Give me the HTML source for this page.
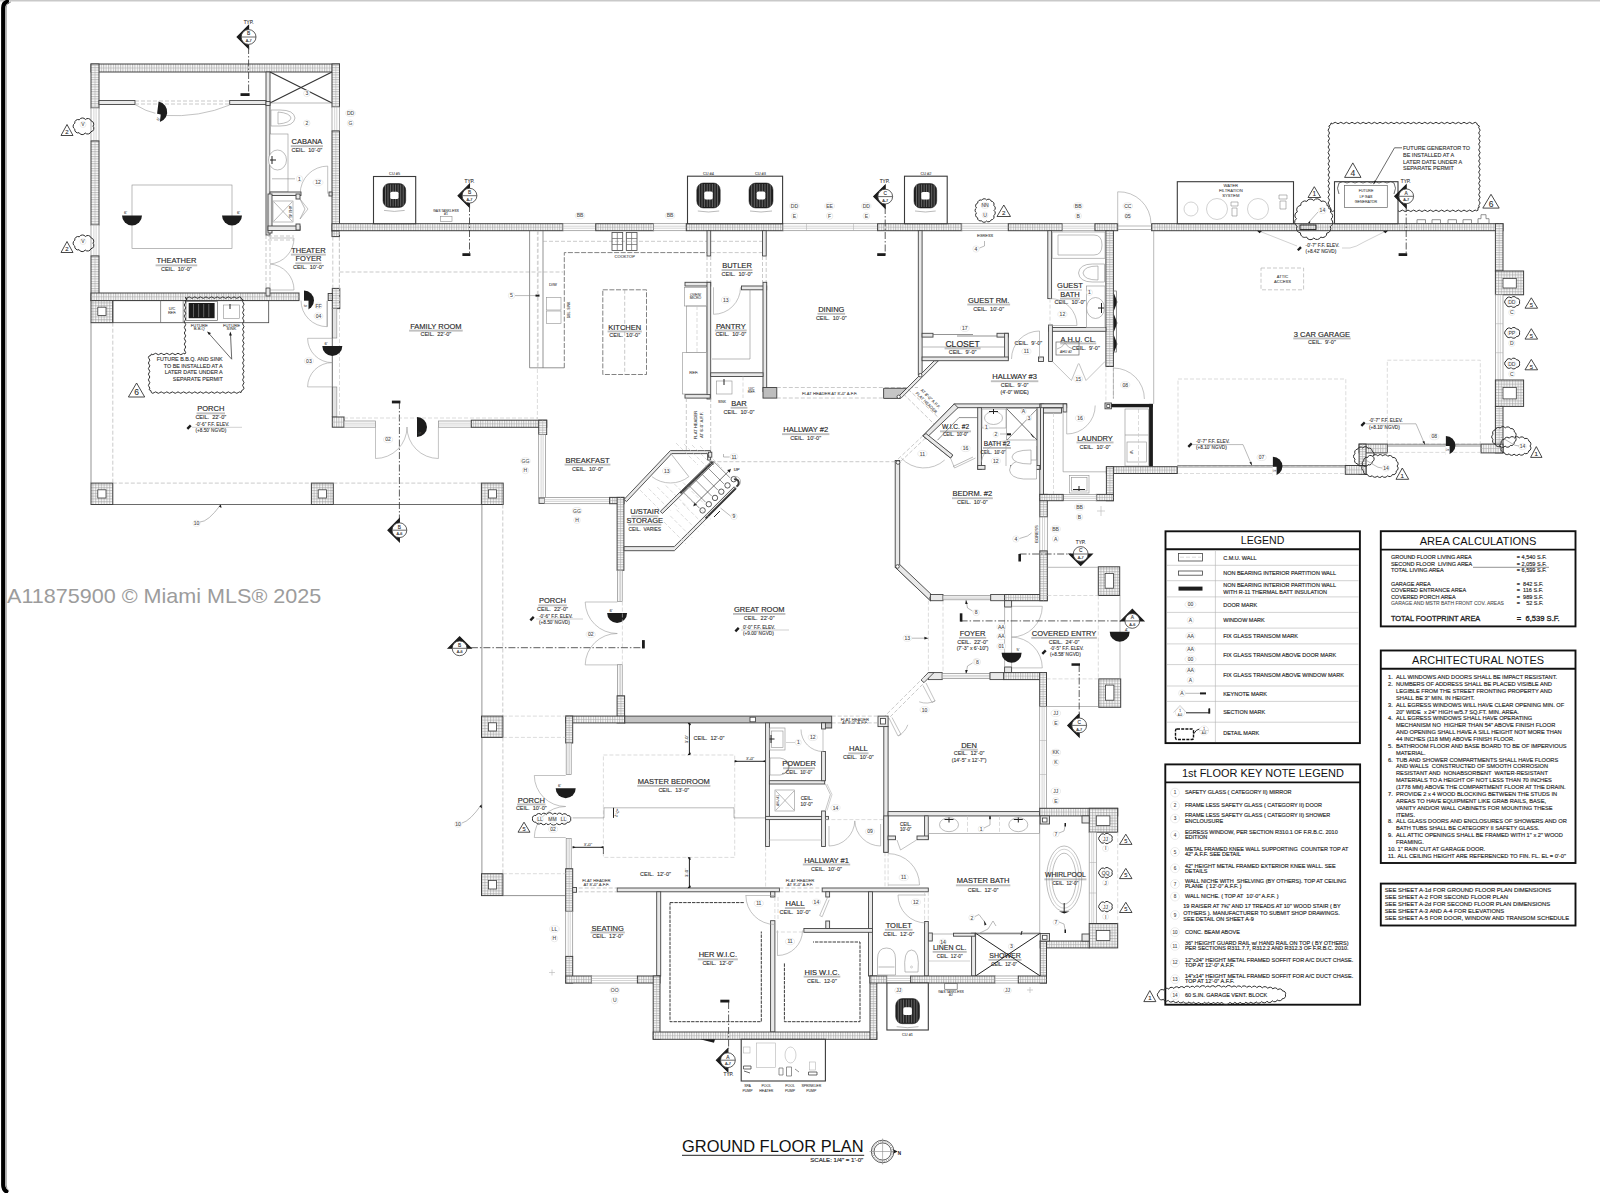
<!DOCTYPE html>
<html lang="en"><head><meta charset="utf-8"><title>Ground Floor Plan</title>
<style>
html,body{margin:0;padding:0;background:#fff}
body{width:1600px;height:1193px;overflow:hidden;position:relative;font-family:"Liberation Sans",sans-serif}
svg{position:absolute;left:0;top:0;display:block}
text{font-family:"Liberation Sans",sans-serif;text-anchor:middle;white-space:pre}
.t{fill:#333;stroke:#333;stroke-width:.12}
.t2{fill:#3a3a3a;stroke:#3a3a3a;stroke-width:.12}
.tt{fill:#484848;stroke:#484848;stroke-width:.08}
.rn{fill:#2a2a2a;stroke:#2a2a2a;stroke-width:.15}
.ul{stroke:#707070;stroke-width:.45;fill:none}
.cm{stroke:#404040;stroke-width:1}
.hc{stroke:#aaa;stroke-width:.5;fill:none}
.gw{stroke:#3c3c3c;stroke-width:.9}
.tw{fill:#e9e9e9;stroke:#444;stroke-width:.9}
.wn{fill:#fff;stroke:#8a8a8a;stroke-width:.7}
.wl{stroke:#aaa;stroke-width:.5;fill:none}
.ci{fill:#fff;stroke:#3c3c3c;stroke-width:.8}
.l0{stroke:#222;stroke-width:1;fill:none}
.l1{stroke:#444;stroke-width:.8;fill:none}
.lx{stroke:#333;stroke-width:1.1;fill:none}
.rl{stroke:#3a3a3a;stroke-width:1.9;fill:none}
.l2{stroke:#666;stroke-width:.7;fill:none}
.l3{stroke:#8c8c8c;stroke-width:.6;fill:none}
.l4{stroke:#b4b4b4;stroke-width:.6;fill:none}
.fx{stroke:#909090;stroke-width:.6;fill:#fff}
.dr{stroke:#9a9a9a;stroke-width:.6;fill:none}
.ds{stroke:#a6a6a6;stroke-width:.6;fill:none;stroke-dasharray:4 2}
.dk{stroke:#4c4c4c;stroke-width:.7;fill:none;stroke-dasharray:5 1.6}
.dk2{stroke:#3a3a3a;stroke-width:1;fill:none;stroke-dasharray:3.4 1}
.ds2{stroke:#c4c4c4;stroke-width:.6;fill:none;stroke-dasharray:4 2}
.dd{stroke:#333;stroke-width:.8;fill:none;stroke-dasharray:7 2 1.5 2}
.bk{fill:#1c1c1c;stroke:none}
.bkp{fill:#1c1c1c;stroke:#1c1c1c;stroke-width:1.1;stroke-linejoin:miter}
.bx{fill:#fff;stroke:#3a3a3a;stroke-width:1.1}
.bb{fill:none;stroke:#111;stroke-width:1.9}
.sc{fill:#fff;stroke:#333;stroke-width:.8}
.tg{fill:#fff;stroke:#d8d8d8;stroke-width:.5}
.trg{fill:#fff;stroke:#333;stroke-width:.9}
.cl{fill:none;stroke:#2c2c2c;stroke-width:1}
.cuo{fill:#222;stroke:#111;stroke-width:.5}
.cus{stroke:#8a8a8a;stroke-width:.65}
.cuc{fill:#fff;stroke:none}
.nt{fill:#2c2c2c;stroke:#2c2c2c;stroke-width:.16}
.hd{fill:#111}
.hdb{fill:#111;font-weight:bold}
.wht{fill:#fff;stroke:none}
.dt{fill:none;stroke:#111;stroke-width:1.4;stroke-dasharray:3 1.2}
.hd2{fill:#222;stroke:#222;stroke-width:.3}
.wm{fill:#9c9c9c;stroke:#fff;stroke-width:.4;paint-order:stroke}
</style></head>
<body>
<svg width="1600" height="1193" viewBox="0 0 1600 1193">
<defs>
<pattern id="hv" width="2.4" height="8" patternUnits="userSpaceOnUse"><rect width="2.4" height="8" fill="#fafafa"/><path d="M.6 0V8" stroke="#8e8e8e" stroke-width=".65"/></pattern>
<pattern id="hh" width="8" height="2.4" patternUnits="userSpaceOnUse"><rect width="8" height="2.4" fill="#fafafa"/><path d="M0 .6H8" stroke="#8e8e8e" stroke-width=".65"/></pattern>
<pattern id="hx" width="2.8" height="2.8" patternUnits="userSpaceOnUse"><rect width="2.8" height="2.8" fill="#fafafa"/><path d="M.6 0V2.8M0 .6H2.8" stroke="#9a9a9a" stroke-width=".6"/></pattern>
</defs>
<rect class="cm" x="91" y="64" width="248.5" height="8" fill="url(#hv)"/>
<path class="hc" d="M91 68H339.5"/>
<rect class="cm" x="91" y="64" width="8" height="44" fill="url(#hh)"/>
<path class="hc" d="M95 64V108"/>
<rect class="wn" x="91" y="108" width="8" height="33"/>
<path class="wl" d="M93.9 108V141"/>
<path class="wl" d="M96.1 108V141"/>
<rect class="cm" x="91" y="141" width="8" height="84" fill="url(#hh)"/>
<path class="hc" d="M95 141V225"/>
<rect class="wn" x="91" y="225" width="8" height="31"/>
<path class="wl" d="M93.9 225V256"/>
<path class="wl" d="M96.1 225V256"/>
<rect class="cm" x="91" y="256" width="8" height="44.6" fill="url(#hh)"/>
<path class="hc" d="M95 256V300.6"/>
<rect class="cm" x="332" y="64" width="7.5" height="43" fill="url(#hh)"/>
<path class="hc" d="M335.8 64V107"/>
<rect class="wn" x="332" y="107" width="7.5" height="24"/>
<path class="wl" d="M334.7 107V131"/>
<path class="wl" d="M336.8 107V131"/>
<rect class="cm" x="332" y="131" width="7.5" height="100" fill="url(#hh)"/>
<path class="hc" d="M335.8 131V231"/>
<rect class="cm" x="91" y="293" width="208" height="7.6" fill="url(#hv)"/>
<path class="hc" d="M91 296.8H299"/>
<rect class="tw" x="266" y="72" width="4" height="163"/>
<rect class="tw" x="99" y="100.5" width="36" height="4"/>
<rect class="tw" x="229.7" y="100.5" width="36.3" height="4"/>
<path class="ds" d="M135 101 L229.7 101"/>
<path class="ds" d="M135 104 L229.7 104"/>
<path class="dr" d="M135 104.5Q146 111.500 156 113.500"/>
<path class="dr" d="M164 115.500Q200 117.500 229.7 105"/>
<path class="bk" d="M157.3 112L158.6 101.5A10.6 10.6 0 0 1 156 122.5Z"/>
<path class="wht" d="M155 113.200L160.700 114.400L159.600 124.500L154 124.500Z"/>
<text class="tt" x="158.2" y="120.4" font-size="3.9" transform="rotate(-80 158.2 119)">6'</text>
<path class="lx" d="M270 72 L332 103"/>
<path class="lx" d="M270 103 L332 72"/>
<path class="l3" d="M270 103 L332 103"/>
<rect class="tw" x="266" y="101.5" width="4" height="4"/>
<path class="fx" d="M271 110h9q14 0 15 8q-1 8 -15 8h-9z"/>
<path class="fx" d="M278 112q12 1 13 6q-1 5 -13 6z"/>
<rect class="fx" x="270" y="134" width="18" height="58"/>
<ellipse class="fx" cx="277.5" cy="160" rx="9" ry="10"/>
<path class="l0" d="M272 156v8M270 160h6"/>
<ellipse class="tg" cx="299.5" cy="178.8" rx="3.2" ry="3.2"/>
<text class="tt" x="299.5" y="180.6" font-size="5">1</text>
<path class="l3" d="M272 178.8 L295 178.8"/>
<ellipse class="tg" cx="318" cy="182.5" rx="5" ry="3.4"/>
<text class="tt" x="318" y="184.3" font-size="5">12</text>
<ellipse class="tg" cx="306.8" cy="123.2" rx="3.2" ry="3.2"/>
<text class="tt" x="306.8" y="125" font-size="5">2</text>
<ellipse class="tg" cx="306.8" cy="93.5" rx="3.2" ry="3.2"/>
<text class="tt" x="306.8" y="95.3" font-size="5">3</text>
<path class="dr" d="M327.7 193.6L327.7 166.1"/>
<path class="dr" d="M327.7 166.1A27.5 27.5 0 0 0 300.2 193.6"/>
<rect class="tw" x="270" y="192" width="31" height="3.5"/>
<rect class="tw" x="329" y="192" width="3" height="4"/>
<rect class="tw" x="268" y="194" width="4" height="39"/>
<rect class="tw" x="268" y="226" width="32" height="4.5"/>
<rect class="tw" x="296" y="194" width="4" height="5"/>
<rect class="tw" x="296" y="224" width="4" height="6"/>
<rect class="fx" x="273" y="201" width="20" height="21"/>
<path class="l3" d="M274 202 L292 221"/>
<path class="l3" d="M274 221 L292 202"/>
<text class="tt" x="290.5" y="213.2" font-size="3.4" transform="rotate(90 290.5 212)">AHU #5</text>
<path class="dr" d="M300 199l8 10l-8 10"/>
<path class="l3" d="M300 199l5 10l-5 10"/>
<path class="ds" d="M268 236h26M268 240h26"/>
<path class="dr" d="M270 238h24A26 26 0 0 1 270 264"/>
<path class="dr" d="M270 290h24A26 26 0 0 0 270 264"/>
<rect class="tw" x="266" y="288" width="4" height="8"/>
<path class="ds" d="M266 235 L266 293"/>
<path class="ds" d="M270 235 L270 293"/>
<rect class="l3" x="132" y="185" width="100" height="63.4"/>
<path class="bk" d="M132 215.5L142 215.5A10 10 0 0 1 122 215.5Z"/>
<path class="bk" d="M232 215.5L242 215.5A10 10 0 0 1 222 215.5Z"/>
<text class="tt" x="125.5" y="214" font-size="4.2">6'</text>
<text class="tt" x="238.5" y="214" font-size="4.2">6'</text>
<text class="rn" x="176.4" y="263.4" font-size="7.5">THEATHER</text>
<path class="ul" d="M155.6 264.9H197.2M155.6 265.8H197.2"/>
<text class="t" x="176.4" y="271.3" font-size="5.5">CEIL.  10'-0"</text>
<text class="rn" x="306.9" y="144.2" font-size="7.5">CABANA</text>
<path class="ul" d="M290.8 145.7H323M290.8 146.6H323"/>
<text class="t" x="306.9" y="152.1" font-size="5.5">CEIL.  10'-0"</text>
<text class="rn" x="308.4" y="252.7" font-size="7.5">THEATER</text>
<path class="ul" d="M290.9 254.2H325.9M290.9 255.1H325.9"/>
<text class="rn" x="308.4" y="261.3" font-size="7.5">FOYER</text>
<path class="ul" d="M295.4 262.8H321.4M295.4 263.7H321.4"/>
<text class="t" x="308.4" y="269" font-size="5.5">CEIL.  10'-0"</text>
<text class="t" x="248.6" y="23.7" font-size="4.7">TYP.</text>
<path class="bkp" d="M248.6 25.5 L237.1 37 L248.6 48.5Z"/>
<circle class="sc" cx="248.6" cy="37" r="7.4"/>
<path class="l1" d="M241.2 37H256"/>
<text class="t" x="248.6" y="35.4" font-size="4.8">B</text>
<text class="t" x="248.6" y="42.1" font-size="3.8">A-7</text>
<path class="dd" d="M248.6 47 L248.6 94"/>
<rect class="bk" x="240.5" y="93.2" width="9.1" height="2.8"/>
<path class="trg" d="M61 135.5 L67 124.5 L73 135.5Z"/>
<text class="t" x="67" y="134" font-size="6">2</text>
<path class="cl" d="M93 126.2A3.3 3.3 0 0 1 91 131.7A3.5 3.5 0 0 1 85.2 133A3.5 3.5 0 0 1 79.1 132.7A3.2 3.2 0 0 1 74.8 129.2A3.5 3.5 0 0 1 74.8 123.2A3.2 3.2 0 0 1 79.3 119.8A3.6 3.6 0 0 1 85.4 119.5A3.4 3.4 0 0 1 91.1 120.9A3.3 3.3 0 0 1 93 126.2Z"/>
<ellipse class="tg" cx="83" cy="124.5" rx="3" ry="3"/>
<text class="tt" x="83" y="126.3" font-size="5">V</text>
<path class="trg" d="M61 252.5 L67 241.5 L73 252.5Z"/>
<text class="t" x="67" y="251" font-size="6">2</text>
<path class="cl" d="M93 243.2A3.3 3.3 0 0 1 91 248.7A3.5 3.5 0 0 1 85.2 250A3.5 3.5 0 0 1 79.1 249.7A3.2 3.2 0 0 1 74.8 246.2A3.5 3.5 0 0 1 74.8 240.2A3.2 3.2 0 0 1 79.3 236.8A3.6 3.6 0 0 1 85.4 236.5A3.4 3.4 0 0 1 91.1 237.9A3.3 3.3 0 0 1 93 243.2Z"/>
<ellipse class="tg" cx="83" cy="241.5" rx="3" ry="3"/>
<text class="tt" x="83" y="243.3" font-size="5">V</text>
<ellipse class="tg" cx="350.5" cy="113.2" rx="4.8" ry="3.3"/>
<text class="tt" x="350.5" y="115" font-size="5">DD</text>
<ellipse class="tg" cx="350.5" cy="123.2" rx="3.3" ry="3.3"/>
<text class="tt" x="350.5" y="125" font-size="5">G</text>
<rect class="cm" x="332" y="223.7" width="231" height="7" fill="url(#hv)"/>
<path class="hc" d="M332 227.2H563"/>
<rect class="wn" x="563" y="223.7" width="32.8" height="7"/>
<path class="wl" d="M563 226.2H595.8"/>
<path class="wl" d="M563 228.2H595.8"/>
<rect class="cm" x="595.8" y="223.7" width="57.8" height="7" fill="url(#hv)"/>
<path class="hc" d="M595.8 227.2H653.6"/>
<rect class="wn" x="653.6" y="223.7" width="32.7" height="7"/>
<path class="wl" d="M653.6 226.2H686.3"/>
<path class="wl" d="M653.6 228.2H686.3"/>
<rect class="cm" x="686.3" y="223.7" width="96.7" height="7" fill="url(#hv)"/>
<path class="hc" d="M686.3 227.2H783"/>
<rect class="wn" x="783" y="223.7" width="94.6" height="7"/>
<path class="wl" d="M783 226.2H877.6"/>
<path class="wl" d="M783 228.2H877.6"/>
<path class="wl" d="M806.5 223.7V230.7"/>
<path class="wl" d="M853.5 223.7V230.7"/>
<rect class="cm" x="877.6" y="223.7" width="84.2" height="7" fill="url(#hv)"/>
<path class="hc" d="M877.6 227.2H961.8"/>
<rect class="wn" x="961.8" y="223.7" width="46.5" height="7"/>
<path class="wl" d="M961.8 226.2H1008.3"/>
<path class="wl" d="M961.8 228.2H1008.3"/>
<rect class="cm" x="1008.3" y="223.7" width="54.1" height="7" fill="url(#hv)"/>
<path class="hc" d="M1008.3 227.2H1062.4"/>
<rect class="wn" x="1062.4" y="223.7" width="32.6" height="7"/>
<path class="wl" d="M1062.4 226.2H1095"/>
<path class="wl" d="M1062.4 228.2H1095"/>
<rect class="cm" x="1095" y="223.7" width="22.7" height="7" fill="url(#hv)"/>
<path class="hc" d="M1095 227.2H1117.7"/>
<rect class="cm" x="1151.6" y="223.7" width="351.4" height="7" fill="url(#hv)"/>
<path class="hc" d="M1151.6 227.2H1503"/>
<rect class="bx" x="373.5" y="176.5" width="42.2" height="47.2"/>
<rect class="cuo" x="383" y="183.5" width="22.7" height="23.9" rx="6.4" ry="6.7"/>
<path class="cus" d="M385.5 184.5V206.4"/>
<path class="cus" d="M388 184.5V206.4"/>
<path class="cus" d="M390.6 184.5V206.4"/>
<path class="cus" d="M393.1 184.5V206.4"/>
<path class="cus" d="M395.6 184.5V206.4"/>
<path class="cus" d="M398.1 184.5V206.4"/>
<path class="cus" d="M400.7 184.5V206.4"/>
<path class="cus" d="M403.2 184.5V206.4"/>
<rect class="cuc" x="390.3" y="191.7" width="8.2" height="7.4" rx="1.6"/>
<path class="l3" d="M384 210.4Q394.4 212.4 404.7 210.4"/>
<text class="tt" x="394.6" y="174.8" font-size="3.9">CU #5</text>
<rect class="bx" x="687.5" y="176.2" width="95.1" height="47.5"/>
<rect class="cuo" x="696.8" y="183" width="23.4" height="25" rx="6.6" ry="7"/>
<path class="cus" d="M699.4 184V207"/>
<path class="cus" d="M702 184V207"/>
<path class="cus" d="M704.6 184V207"/>
<path class="cus" d="M707.2 184V207"/>
<path class="cus" d="M709.8 184V207"/>
<path class="cus" d="M712.4 184V207"/>
<path class="cus" d="M715 184V207"/>
<path class="cus" d="M717.6 184V207"/>
<rect class="cuc" x="704.3" y="191.6" width="8.4" height="7.8" rx="1.6"/>
<path class="l3" d="M697.8 211Q708.5 213 719.2 211"/>
<text class="tt" x="708.4" y="174.8" font-size="3.9">CU #4</text>
<rect class="cuo" x="749" y="183" width="24" height="25" rx="6.7" ry="7"/>
<path class="cus" d="M751.7 184V207"/>
<path class="cus" d="M754.3 184V207"/>
<path class="cus" d="M757 184V207"/>
<path class="cus" d="M759.7 184V207"/>
<path class="cus" d="M762.3 184V207"/>
<path class="cus" d="M765 184V207"/>
<path class="cus" d="M767.7 184V207"/>
<path class="cus" d="M770.3 184V207"/>
<rect class="cuc" x="756.7" y="191.6" width="8.6" height="7.8" rx="1.6"/>
<path class="l3" d="M750 211Q761 213 772 211"/>
<text class="tt" x="760.4" y="174.8" font-size="3.9">CU #3</text>
<rect class="bx" x="904.5" y="176.2" width="42.7" height="47.5"/>
<rect class="cuo" x="914" y="183.5" width="22.7" height="24.5" rx="6.4" ry="6.9"/>
<path class="cus" d="M916.5 184.5V207"/>
<path class="cus" d="M919 184.5V207"/>
<path class="cus" d="M921.6 184.5V207"/>
<path class="cus" d="M924.1 184.5V207"/>
<path class="cus" d="M926.6 184.5V207"/>
<path class="cus" d="M929.1 184.5V207"/>
<path class="cus" d="M931.7 184.5V207"/>
<path class="cus" d="M934.2 184.5V207"/>
<rect class="cuc" x="921.3" y="192" width="8.2" height="7.6" rx="1.6"/>
<path class="l3" d="M915 211Q925.4 213 935.7 211"/>
<text class="tt" x="925.9" y="174.8" font-size="3.9">CU #2</text>
<text class="t" x="469.5" y="182.7" font-size="4.7">TYP.</text>
<path class="bkp" d="M469.5 184.2 L458 195.7 L469.5 207.2Z"/>
<circle class="sc" cx="469.5" cy="195.7" r="7.4"/>
<path class="l1" d="M462.1 195.7H476.9"/>
<text class="t" x="469.5" y="194.1" font-size="4.8">B</text>
<text class="t" x="469.5" y="200.8" font-size="3.8">A-7</text>
<path class="dd" d="M469.5 205 L469.5 254.6"/>
<rect class="bk" x="462.4" y="253.2" width="8" height="2.8"/>
<text class="t" x="884.6" y="182.7" font-size="4.7">TYP.</text>
<path class="bkp" d="M885.2 185.1 L873.7 196.6 L885.2 208.1Z"/>
<circle class="sc" cx="885.2" cy="196.6" r="7.4"/>
<path class="l1" d="M877.8 196.6H892.6"/>
<text class="t" x="885.2" y="195" font-size="4.8">C</text>
<text class="t" x="885.2" y="201.7" font-size="3.8">A-7</text>
<path class="dd" d="M885.2 207 L885.2 254.6"/>
<rect class="bk" x="877.2" y="253.2" width="8.3" height="2.8"/>
<text class="tt" x="446" y="211.7" font-size="3.4">GAS TANKLESS</text>
<text class="tt" x="446" y="214.8" font-size="3.4">#1</text>
<rect class="l3" x="440.5" y="216.5" width="11.5" height="5"/>
<ellipse class="tg" cx="580" cy="215.6" rx="4.8" ry="3.2"/>
<text class="tt" x="580" y="217.4" font-size="5">BB</text>
<ellipse class="tg" cx="670" cy="215.6" rx="4.8" ry="3.2"/>
<text class="tt" x="670" y="217.4" font-size="5">BB</text>
<ellipse class="tg" cx="794.4" cy="206" rx="4.8" ry="3.3"/>
<text class="tt" x="794.4" y="207.8" font-size="5">DD</text>
<ellipse class="tg" cx="794.4" cy="216" rx="3.3" ry="3.3"/>
<text class="tt" x="794.4" y="217.8" font-size="5">E</text>
<ellipse class="tg" cx="829.6" cy="206" rx="4.8" ry="3.3"/>
<text class="tt" x="829.6" y="207.8" font-size="5">EE</text>
<ellipse class="tg" cx="829.6" cy="216" rx="3.3" ry="3.3"/>
<text class="tt" x="829.6" y="217.8" font-size="5">F</text>
<ellipse class="tg" cx="866.3" cy="206" rx="4.8" ry="3.3"/>
<text class="tt" x="866.3" y="207.8" font-size="5">DD</text>
<ellipse class="tg" cx="866.3" cy="216" rx="3.3" ry="3.3"/>
<text class="tt" x="866.3" y="217.8" font-size="5">E</text>
<ellipse class="tg" cx="1078.2" cy="206" rx="4.8" ry="3.3"/>
<text class="tt" x="1078.2" y="207.8" font-size="5">BB</text>
<ellipse class="tg" cx="1078.2" cy="216" rx="3.3" ry="3.3"/>
<text class="tt" x="1078.2" y="217.8" font-size="5">B</text>
<ellipse class="tg" cx="1127.8" cy="206" rx="4.8" ry="3.3"/>
<text class="tt" x="1127.8" y="207.8" font-size="5">CC</text>
<ellipse class="tg" cx="1127.8" cy="216" rx="3.3" ry="3.3"/>
<text class="tt" x="1127.8" y="217.8" font-size="5">05</text>
<path class="cl" d="M994 210.5A3 3 0 0 1 993.7 215.6A2.8 2.8 0 0 1 991.2 219.8A2.9 2.9 0 0 1 986.4 221A2.8 2.8 0 0 1 981.5 220.7A2.8 2.8 0 0 1 977.6 217.8A2.9 2.9 0 0 1 976.5 212.9A2.9 2.9 0 0 1 976.5 207.9A2.8 2.8 0 0 1 977.7 203.1A2.9 2.9 0 0 1 981.7 200.2A2.9 2.9 0 0 1 986.6 200A2.8 2.8 0 0 1 991.3 201.3A2.8 2.8 0 0 1 993.7 205.5A2.9 2.9 0 0 1 994 210.5Z"/>
<ellipse class="tg" cx="985" cy="205.5" rx="4" ry="3"/>
<text class="tt" x="985" y="207.3" font-size="5">NN</text>
<ellipse class="tg" cx="985" cy="215" rx="3" ry="3"/>
<text class="tt" x="985" y="216.8" font-size="5">U</text>
<path class="trg" d="M997 216.5 L1003.8 205 L1010.5 216.5Z"/>
<text class="t" x="1003.8" y="214.9" font-size="6.2">2</text>
<text class="tt" x="985" y="236.7" font-size="3.9">EGRESS</text>
<ellipse class="tg" cx="976" cy="249" rx="3.2" ry="3.2"/>
<text class="tt" x="976" y="250.8" font-size="5">4</text>
<path class="l3" d="M979.5 248l5-2v-5"/>
<path class="dr" d="M1117.7 223.7V191.8A32 32 0 0 1 1151 223.7"/>
<path class="l3" d="M1117.7 226h34M1117.7 229.5h34"/>
<rect class="bx" x="1177.3" y="181.7" width="116.2" height="42"/>
<text class="tt" x="1230.8" y="187" font-size="4.2">WATER</text>
<text class="tt" x="1230.8" y="192.1" font-size="4.2">FILTRATION</text>
<text class="tt" x="1230.8" y="197.2" font-size="4.2">SYSTEM</text>
<circle class="l4" cx="1217" cy="209" r="10.5"/>
<circle class="l4" cx="1258" cy="209" r="10.5"/>
<circle class="l4" cx="1191" cy="209" r="7"/>
<path class="l3" d="M1231 202h7v4h-7zM1232 208h5v8h-5z"/>
<path class="l3" d="M1279 195h8v4h-8zM1280 201h6v8h-6z"/>
<path class="cl" d="M1331 123q1.4 1.4 2.8 0q1.4 -1.4 2.8 0q1.4 1.4 2.8 0q1.4 -1.4 2.8 0q1.4 1.4 2.8 0q1.4 -1.4 2.8 0q1.4 1.4 2.8 0q1.4 -1.4 2.8 0q1.4 1.4 2.8 0q1.4 -1.4 2.8 0q1.4 1.4 2.8 0q1.4 -1.4 2.8 0q1.4 1.4 2.8 0q1.4 -1.4 2.8 0q1.4 1.4 2.8 0q1.4 -1.4 2.8 0q1.4 1.4 2.8 0q1.4 -1.4 2.8 0q1.4 1.4 2.8 0q1.4 -1.4 2.8 0q1.4 1.4 2.8 0q1.4 -1.4 2.8 0q1.4 1.4 2.8 0q1.4 -1.4 2.8 0q1.4 1.4 2.8 0q1.4 -1.4 2.8 0q1.4 1.4 2.8 0q1.4 -1.4 2.8 0q1.4 1.4 2.8 0q1.4 -1.4 2.8 0q1.4 1.4 2.8 0q1.4 -1.4 2.8 0q1.4 1.4 2.8 0q1.4 -1.4 2.8 0q1.4 1.4 2.8 0q1.4 -1.4 2.8 0q1.4 1.4 2.8 0q1.4 -1.4 2.8 0q1.4 1.4 2.8 0q1.4 -1.4 2.8 0q1.4 1.4 2.8 0q1.4 -1.4 2.8 0q1.4 1.4 2.8 0q1.4 -1.4 2.8 0q1.4 1.4 2.8 0q1.4 -1.4 2.8 0q1.4 1.4 2.8 0q1.4 -1.4 2.8 0q1.4 1.4 2.8 0q1.4 -1.4 2.8 0q1.4 1.4 2.8 0q1.4 -1.4 2.8 0q0.4 2.5 2.8 3q-1.4 1.4 0 2.8q1.4 1.4 0 2.8q-1.4 1.4 0 2.8q1.4 1.4 0 2.8q-1.4 1.4 0 2.8q1.4 1.4 0 2.8q-1.4 1.4 0 2.8q1.4 1.4 0 2.8q-1.4 1.4 0 2.8q1.4 1.4 0 2.8q-1.4 1.4 0 2.8q1.4 1.4 0 2.8q-1.4 1.4 0 2.8q1.4 1.4 0 2.8q-1.4 1.4 0 2.8q1.4 1.4 0 2.8q-1.4 1.4 0 2.8q1.4 1.4 0 2.8q-1.4 1.4 0 2.8q1.4 1.4 0 2.8q-1.4 1.4 0 2.8q1.4 1.4 0 2.8q-1.4 1.4 0 2.8q1.4 1.4 0 2.8q-1.4 1.4 0 2.8q1.4 1.4 0 2.8q-1.4 1.4 0 2.8q1.4 1.4 0 2.8q-1.4 1.4 0 2.8q-1.8 0 -1.4 1.8q0.4 1.8 -1.4 1.8q-1.4 -1.4 -2.8 0q-1.4 1.4 -2.8 0q-1.4 -1.4 -2.8 0q-1.4 1.4 -2.8 0q-1.4 -1.4 -2.8 0q-1.4 1.4 -2.8 0q-1.4 -1.4 -2.8 0q-1.4 1.4 -2.8 0q-1.4 -1.4 -2.8 0q-1.4 1.4 -2.8 0q-1.4 -1.4 -2.8 0q-1.4 1.4 -2.8 0q-1.4 -1.4 -2.8 0q-1.4 1.4 -2.8 0q-1.4 -1.4 -2.8 0q-1.4 1.4 -2.8 0q-1.4 -1.4 -2.8 0q-1.4 1.4 -2.8 0q-1.4 -1.4 -2.8 0q-1.4 1.4 -2.8 0q-1.4 -1.4 -2.8 0q-1.4 1.4 -2.8 0q-1.4 -1.4 -2.8 0q-1.4 1.4 -2.8 0q-1.4 -1.4 -2.8 0q-1.4 1.4 -2.8 0q-1.4 -1.4 -2.8 0q-1.4 1.4 -2.8 0q-1.4 -1.4 -2.8 0q-1.4 1.4 -2.8 0q-1.4 -1.4 -2.8 0q-1.4 1.4 -2.8 0q-1.4 -1.4 -2.8 0q-1.4 1.4 -2.8 0q-1.4 -1.4 -2.8 0q-1.4 1.4 -2.8 0q-1.4 -1.4 -2.8 0q-1.4 1.4 -2.8 0q-1.4 -1.4 -2.8 0q-1.4 1.4 -2.8 0q-1.4 -1.4 -2.8 0q-1.4 1.4 -2.8 0q-1.4 -1.4 -2.8 0q-1.4 1.4 -2.8 0q-1.4 -1.4 -2.8 0q-1.4 1.4 -2.8 0q-1.4 -1.4 -2.8 0q-1.4 1.4 -2.8 0q-1.4 -1.4 -2.8 0q-1.4 1.4 -2.8 0q-1.4 -1.4 -2.8 0q-1.4 1.4 -2.8 0q0.6 -1.7 -1.1 -1.8q-1.8 -0.1 -1.1 -1.8q1.4 -1.4 0 -2.8q-1.4 -1.4 0 -2.8q1.4 -1.4 0 -2.8q-1.4 -1.4 0 -2.8q1.4 -1.4 0 -2.8q-1.4 -1.4 0 -2.8q1.4 -1.4 0 -2.8q-1.4 -1.4 0 -2.8q1.4 -1.4 0 -2.8q-1.4 -1.4 0 -2.8q1.4 -1.4 0 -2.8q-1.4 -1.4 0 -2.8q1.4 -1.4 0 -2.8q-1.4 -1.4 0 -2.8q1.4 -1.4 0 -2.8q-1.4 -1.4 0 -2.8q1.4 -1.4 0 -2.8q-1.4 -1.4 0 -2.8q1.4 -1.4 0 -2.8q-1.4 -1.4 0 -2.8q1.4 -1.4 0 -2.8q-1.4 -1.4 0 -2.8q1.4 -1.4 0 -2.8q-1.4 -1.4 0 -2.8q1.4 -1.4 0 -2.8q-1.4 -1.4 0 -2.8q1.4 -1.4 0 -2.8q-1.4 -1.4 0 -2.8q1.4 -1.4 0 -2.8q2.3 -0.6 2.3 -3Z"/>
<rect class="bx" x="1334.5" y="181.7" width="63.5" height="42"/>
<rect class="l2" x="1344.6" y="185.5" width="42.7" height="22.1"/>
<text class="tt" x="1366" y="192.1" font-size="3.6">FUTURE</text>
<text class="tt" x="1366" y="197.5" font-size="3.6">LP GAS</text>
<text class="tt" x="1366" y="202.8" font-size="3.6">GENERATOR</text>
<path class="l1" d="M1339 183q-3 5 0 11M1394 183q3 5 0 11"/>
<path class="l1" d="M1339 183q4 -3 8 0q4 -3 8 0q4 -3 8 0q4 -3 8 0q4 -3 8 0q4 -3 8 0q4 -3 7 0"/>
<text class="t" x="1403" y="150.3" font-size="5.5" style="text-anchor:start">FUTURE GENERATOR TO</text>
<text class="t" x="1403" y="156.9" font-size="5.5" style="text-anchor:start">BE INSTALLED AT A</text>
<text class="t" x="1403" y="163.5" font-size="5.5" style="text-anchor:start">LATER DATE UNDER A</text>
<text class="t" x="1403" y="170.1" font-size="5.5" style="text-anchor:start">SEPARATE PERMIT</text>
<path class="l1" d="M1402 147.8h-7.5l-21 36.4"/>
<path class="bk" d="M1373.5 184.2l1-3.6l1.8 1z"/>
<text class="t" x="1405.7" y="183.4" font-size="4.7">TYP.</text>
<path class="bkp" d="M1406.2 184.8 L1394.7 196.3 L1406.2 207.8Z"/>
<circle class="sc" cx="1406.2" cy="196.3" r="7.4"/>
<path class="l1" d="M1398.8 196.3H1413.6"/>
<text class="t" x="1406.2" y="194.7" font-size="4.8">A</text>
<text class="t" x="1406.2" y="201.4" font-size="3.8">A-7</text>
<path class="dd" d="M1406.2 205 L1406.2 254.6"/>
<rect class="bk" x="1398.6" y="253.2" width="8.6" height="2.8"/>
<path class="trg" d="M1344.6 177.4 L1352.8 162.9 L1361 177.4Z"/>
<text class="t" x="1352.8" y="175.7" font-size="8.5">4</text>
<path class="trg" d="M1308 197.5 L1314.3 186.7 L1320.7 197.5Z"/>
<text class="t" x="1314.3" y="196.3" font-size="6.5">1</text>
<path class="trg" d="M1482.8 208.1 L1491 194.3 L1499.2 208.1Z"/>
<text class="t" x="1491" y="206.6" font-size="8.5">6</text>
<path class="cl" d="M1331 219.2A4.3 4.3 0 0 1 1330.2 226.6A4.3 4.3 0 0 1 1326.8 233.1A4.2 4.2 0 0 1 1320.7 237.1A4.1 4.1 0 0 1 1313.8 238A4.2 4.2 0 0 1 1306.5 237A4.2 4.2 0 0 1 1300.5 232.9A4.3 4.3 0 0 1 1297.2 226.3A4.4 4.4 0 0 1 1296.5 218.7A3.9 3.9 0 0 1 1297.3 211.9A4.3 4.3 0 0 1 1300.7 205.4A4.2 4.2 0 0 1 1306.8 201.4A4.1 4.1 0 0 1 1313.7 200.5A4.2 4.2 0 0 1 1321 201.5A4.2 4.2 0 0 1 1327 205.6A4.3 4.3 0 0 1 1330.3 212.2A4.1 4.1 0 0 1 1331 219.2Z"/>
<ellipse class="tg" cx="1322.4" cy="210.6" rx="3.8" ry="3.2"/>
<text class="tt" x="1322.4" y="212.4" font-size="5">14</text>
<path class="l3" d="M1318 212l-9 10"/>
<rect class="l0" x="1300" y="225" width="16" height="4.4"/>
<path class="bk" d="M1308 222.6l2.4-1.6l-.6 2.6z"/>
<text class="t2" x="1305.6" y="247" font-size="4.7" style="text-anchor:start">-0'-7" F.F. ELEV.</text>
<text class="t2" x="1305.6" y="253.1" font-size="4.7" style="text-anchor:start">(+8.42' NGVD)</text>
<path class="bk" d="M1297 249.500l3.2-3.2l1.6 1.6l-3.2 3.2z"/>
<path class="l4" d="M1259 231l38 15M1342 248h8q6 -1 14 -6l22 -11"/>
<path class="bk" d="M1257 230.7l5 .4l-2.4 2.2zM1388 230.7l-5 .4l2.4 2.2z"/>
<rect class="ds" x="1261" y="268" width="42.6" height="21.8"/>
<text class="tt" x="1282.5" y="277.5" font-size="4.1">ATTIC</text>
<text class="tt" x="1282.5" y="283" font-size="4.1">ACCESS</text>
<text class="rn" x="1322" y="336.5" font-size="7.5">3 CAR GARAGE</text>
<path class="ul" d="M1293.3 338H1350.7M1293.3 338.9H1350.7"/>
<text class="t" x="1322" y="344.2" font-size="5.5">CEIL.  9'-0"</text>
<path class="l2" d="M1417 223.7v-4h8.500v4"/>
<path class="l2" d="M1432 223.7v-4h8.500v4"/>
<path class="l2" d="M1448 223.7v-4h8.500v4"/>
<path class="l2" d="M1463 223.7v-4h8.500v4"/>
<path class="l2" d="M1478 223.700v-5h3v-4h5v4h3v5"/>
<rect class="cm" x="1495.4" y="223.7" width="7.6" height="47.3" fill="url(#hh)"/>
<path class="hc" d="M1499.2 223.7V271"/>
<rect class="cm" x="1495.4" y="271" width="28.2" height="23.8" fill="url(#hx)"/>
<rect class="ci" x="1503" y="278.5" width="13.3" height="9.5"/>
<rect class="wn" x="1495.4" y="294.8" width="7.6" height="86.8"/>
<path class="wl" d="M1498.1 294.8V381.6"/>
<path class="wl" d="M1500.3 294.8V381.6"/>
<path class="wl" d="M1495.4 323.7H1503"/>
<path class="wl" d="M1495.4 352.7H1503"/>
<rect class="cm" x="1495.4" y="380" width="28.2" height="26.4" fill="url(#hx)"/>
<rect class="ci" x="1503" y="387.5" width="13.3" height="11.4"/>
<rect class="cm" x="1495.4" y="406.4" width="7.6" height="46.5" fill="url(#hh)"/>
<path class="hc" d="M1499.2 406.4V452.9"/>
<rect class="cm" x="1481" y="444.1" width="22" height="8.8" fill="url(#hv)"/>
<path class="hc" d="M1481 448.5H1503"/>
<path class="cl" d="M1519.5 301.9A2.8 2.8 0 0 1 1516.5 305.6A3.1 3.1 0 0 1 1511.1 305.9A3 3 0 0 1 1506.1 304.4A2.9 2.9 0 0 1 1506.2 299.3A3 3 0 0 1 1511.2 297.9A3.1 3.1 0 0 1 1516.5 298.2A2.8 2.8 0 0 1 1519.5 301.9Z"/>
<ellipse class="tg" cx="1511.8" cy="302.4" rx="4.4" ry="3.2"/>
<text class="tt" x="1511.8" y="304.2" font-size="5">DD</text>
<ellipse class="tg" cx="1511.8" cy="312.4" rx="3.2" ry="3.2"/>
<text class="tt" x="1511.8" y="314.2" font-size="5">C</text>
<path class="trg" d="M1525 308.2 L1531.3 297.8 L1537.6 308.2Z"/>
<text class="t" x="1531.3" y="306.9" font-size="5.8">5</text>
<path class="cl" d="M1519.5 332.8A2.8 2.8 0 0 1 1516.5 336.5A3.1 3.1 0 0 1 1511.1 336.8A3 3 0 0 1 1506.1 335.3A2.9 2.9 0 0 1 1506.2 330.2A3 3 0 0 1 1511.2 328.8A3.1 3.1 0 0 1 1516.5 329.1A2.8 2.8 0 0 1 1519.5 332.8Z"/>
<ellipse class="tg" cx="1511.8" cy="333.3" rx="4.4" ry="3.2"/>
<text class="tt" x="1511.8" y="335.1" font-size="5">PP</text>
<ellipse class="tg" cx="1511.8" cy="343.3" rx="3.2" ry="3.2"/>
<text class="tt" x="1511.8" y="345.1" font-size="5">D</text>
<path class="trg" d="M1525 339.1 L1531.3 328.7 L1537.6 339.1Z"/>
<text class="t" x="1531.3" y="337.8" font-size="5.8">5</text>
<path class="cl" d="M1519.5 363.5A2.8 2.8 0 0 1 1516.5 367.2A3.1 3.1 0 0 1 1511.1 367.5A3 3 0 0 1 1506.1 366A2.9 2.9 0 0 1 1506.2 360.9A3 3 0 0 1 1511.2 359.5A3.1 3.1 0 0 1 1516.5 359.8A2.8 2.8 0 0 1 1519.5 363.5Z"/>
<ellipse class="tg" cx="1511.8" cy="364" rx="4.4" ry="3.2"/>
<text class="tt" x="1511.8" y="365.8" font-size="5">DD</text>
<ellipse class="tg" cx="1511.8" cy="374" rx="3.2" ry="3.2"/>
<text class="tt" x="1511.8" y="375.8" font-size="5">C</text>
<path class="trg" d="M1525 369.8 L1531.3 359.4 L1537.6 369.8Z"/>
<text class="t" x="1531.3" y="368.5" font-size="5.8">5</text>
<rect class="ds2" x="1387.3" y="360.2" width="93" height="83.8"/>
<rect class="ds2" x="1178" y="379" width="167.8" height="87"/>
<rect class="cm" x="91" y="300.6" width="21.8" height="22.1" fill="url(#hx)"/>
<rect class="ci" x="97.8" y="307.2" width="8.2" height="8.3"/>
<rect class="l1" x="112.8" y="300.6" width="155.9" height="22.1"/>
<path class="l2" d="M160.6 300.6 L160.6 322.7"/>
<path class="l2" d="M183.2 300.6 L183.2 322.7"/>
<text class="tt" x="172" y="309.9" font-size="3.8">U/C</text>
<text class="tt" x="172" y="313.9" font-size="3.8">REF.</text>
<rect class="bk" x="188.7" y="303" width="25.9" height="15.2"/>
<path class="cus" d="M193.5 304V317.2"/>
<path class="cus" d="M198.6 304V317.2"/>
<path class="cus" d="M203.7 304V317.2"/>
<path class="cus" d="M208.8 304V317.2"/>
<rect class="l2" x="186" y="301.5" width="31.5" height="19"/>
<rect class="fx" x="223.5" y="305" width="16" height="13.5"/>
<path class="l0" d="M230 304v5"/>
<text class="tt" x="199.3" y="327" font-size="4.2">FUTURE</text>
<text class="tt" x="199.3" y="330.3" font-size="4.2">B.B.Q</text>
<text class="tt" x="231.5" y="327" font-size="4.2">FUTURE</text>
<text class="tt" x="231.5" y="330.3" font-size="4.2">SINK</text>
<path class="cl" d="M185 297.6q1.4 1.4 2.8 0q1.4 -1.4 2.8 0q1.4 1.4 2.8 0q1.4 -1.4 2.8 0q1.4 1.4 2.8 0q1.4 -1.4 2.8 0q1.4 1.4 2.8 0q1.4 -1.4 2.8 0q1.4 1.4 2.8 0q1.4 -1.4 2.8 0q1.4 1.4 2.8 0q1.4 -1.4 2.8 0q1.4 1.4 2.8 0q1.4 -1.4 2.8 0q1.4 1.4 2.8 0q1.4 -1.4 2.8 0q1.4 1.4 2.8 0q1.4 -1.4 2.8 0q1.4 1.4 2.8 0q1.4 -1.4 2.8 0q0.1 2.2 2.3 2.4q-1.4 1.4 0 2.8q1.4 1.4 0 2.8q-1.4 1.4 0 2.8q1.4 1.4 0 2.8q-1.4 1.4 0 2.8q1.4 1.4 0 2.8q-1.4 1.4 0 2.8q1.4 1.4 0 2.8q-1.4 1.4 0 2.8q1.4 1.4 0 2.8q-1.4 1.4 0 2.8q1.4 1.4 0 2.8q-1.4 1.4 0 2.8q1.4 1.4 0 2.8q-1.4 1.4 0 2.8q1.4 1.4 0 2.8q-1.4 1.4 0 2.8q1.4 1.4 0 2.8q-1.4 1.4 0 2.8q1.4 1.4 0 2.8q-1.4 1.4 0 2.8q1.4 1.4 0 2.8q-1.4 1.4 0 2.8q1.4 1.4 0 2.8q-1.4 1.4 0 2.8q1.4 1.4 0 2.8q-1.4 1.4 0 2.8q1.4 1.4 0 2.8q-1.4 1.4 0 2.8q1.4 1.4 0 2.8q-1.4 1.4 0 2.8q1.4 1.4 0 2.8q-2.3 0.6 -2.3 3q-1.4 -1.4 -2.8 0q-1.4 1.4 -2.8 0q-1.4 -1.4 -2.8 0q-1.4 1.4 -2.8 0q-1.4 -1.4 -2.8 0q-1.4 1.4 -2.8 0q-1.4 -1.4 -2.8 0q-1.4 1.4 -2.8 0q-1.4 -1.4 -2.8 0q-1.4 1.4 -2.8 0q-1.4 -1.4 -2.8 0q-1.4 1.4 -2.8 0q-1.4 -1.4 -2.8 0q-1.4 1.4 -2.8 0q-1.4 -1.4 -2.8 0q-1.4 1.4 -2.8 0q-1.4 -1.4 -2.8 0q-1.4 1.4 -2.8 0q-1.4 -1.4 -2.8 0q-1.4 1.4 -2.8 0q-1.4 -1.4 -2.8 0q-1.4 1.4 -2.8 0q-1.4 -1.4 -2.8 0q-1.4 1.4 -2.8 0q-1.4 -1.4 -2.8 0q-1.4 1.4 -2.8 0q-1.4 -1.4 -2.8 0q-1.4 1.4 -2.8 0q-1.4 -1.4 -2.8 0q-1.4 1.4 -2.8 0q-1.4 -1.4 -2.8 0q-1.4 1.4 -2.8 0q-0 -2.4 -2.3 -3q1.4 -1.4 0 -2.8q-1.4 -1.4 0 -2.8q1.4 -1.4 0 -2.8q-1.4 -1.4 0 -2.8q1.4 -1.4 0 -2.8q-1.4 -1.4 0 -2.8q1.4 -1.4 0 -2.8q-1.4 -1.4 0 -2.8q1.4 -1.4 0 -2.8q-1.4 -1.4 0 -2.8q1.4 -1.4 0 -2.8q-1.4 -1.4 0 -2.8q2.1 0.1 2.3 -2q1.4 1.4 2.8 0q1.4 -1.4 2.8 0q1.4 1.4 2.8 0q1.4 -1.4 2.8 0q1.4 1.4 2.8 0q1.4 -1.4 2.8 0q1.4 1.4 2.8 0q1.4 -1.4 2.8 0q1.4 1.4 2.8 0q1.4 -1.4 2.8 0q1.4 1.4 2.8 0q1.4 -1.4 2.8 0q1.4 -1.4 0 -2.8q-1.4 -1.4 0 -2.8q1.4 -1.4 0 -2.8q-1.4 -1.4 0 -2.8q1.4 -1.4 0 -2.8q-1.4 -1.4 0 -2.8q1.4 -1.4 0 -2.8q-1.4 -1.4 0 -2.8q1.4 -1.4 0 -2.8q-1.4 -1.4 0 -2.8q1.4 -1.4 0 -2.8q-1.4 -1.4 0 -2.8q1.4 -1.4 0 -2.8q-1.4 -1.4 0 -2.8q1.4 -1.4 0 -2.8q-1.4 -1.4 0 -2.8q1.4 -1.4 0 -2.8q-1.4 -1.4 0 -2.8q1.4 -1.4 0 -2.8q2 -0.4 1.8 -2.4Z"/>
<text class="t" x="222.7" y="361.1" font-size="5.4" style="text-anchor:end">FUTURE B.B.Q. AND SINK</text>
<text class="t" x="222.7" y="367.7" font-size="5.4" style="text-anchor:end">TO BE INSTALLED AT A</text>
<text class="t" x="222.7" y="374.2" font-size="5.4" style="text-anchor:end">LATER DATE UNDER A</text>
<text class="t" x="222.7" y="380.8" font-size="5.4" style="text-anchor:end">SEPARATE PERMIT</text>
<path class="l1" d="M231.7 359.2L208.3 332.8M231.7 359.2L230.5 334"/>
<path class="bk" d="M207 331.4l4 1.6l-2 2zM230.3 331.5l1.6 4h-2.8z"/>
<path class="trg" d="M128.4 397 L136.6 383 L144.7 397Z"/>
<text class="t" x="136.6" y="395.4" font-size="8.5">6</text>
<text class="rn" x="210.8" y="411.4" font-size="7.5">PORCH</text>
<path class="ul" d="M196.6 412.9H225M196.6 413.8H225"/>
<text class="t" x="210.8" y="419.3" font-size="5.5">CEIL.  22'-0"</text>
<text class="t2" x="195.5" y="426.3" font-size="4.7" style="text-anchor:start">-0'-6" F.F. ELEV.</text>
<text class="t2" x="195.5" y="432.3" font-size="4.7" style="text-anchor:start">(+8.50' NGVD)</text>
<path class="bk" d="M186.5 428l3.4-3.4l1.7 1.7l-3.4 3.4z"/>
<path class="l4" d="M192 427.3h50"/>
<rect class="cm" x="91" y="483.1" width="21.8" height="21.4" fill="url(#hx)"/>
<rect class="ci" x="97.8" y="489.8" width="8.2" height="8.2"/>
<rect class="cm" x="311.4" y="483.1" width="21.9" height="21.4" fill="url(#hx)"/>
<rect class="ci" x="318.2" y="489.8" width="8.3" height="8.2"/>
<rect class="cm" x="481.4" y="483.1" width="21.8" height="21.4" fill="url(#hx)"/>
<rect class="ci" x="488.4" y="489.8" width="8.1" height="8.2"/>
<path class="l2" d="M91 322.7 L91 483.1"/>
<path class="ds" d="M112.8 322.7 L112.8 483.1"/>
<path class="ds" d="M112.8 483.1 L311.4 483.1"/>
<path class="ds" d="M333.3 483.1 L481.4 483.1"/>
<path class="l1" d="M112.8 504.5 L311.4 504.5"/>
<path class="l1" d="M333.3 504.5 L481.4 504.5"/>
<path class="l2" d="M481.9 504.5 L481.9 895.6"/>
<path class="ds" d="M502.8 504.5 L502.8 716"/>
<ellipse class="tg" cx="196.5" cy="523.4" rx="3.6" ry="3.2"/>
<text class="tt" x="196.5" y="525.2" font-size="5">10</text>
<path class="l3" d="M200 522q8 0 20.9-17.5"/>
<path class="bk" d="M220.9 504.5l.6 3.6l-2.6-1.6z"/>
<path class="dd" d="M399.4 402 L399.4 519"/>
<rect class="bk" x="391.9" y="400.6" width="8.5" height="2.8"/>
<path class="bkp" d="M399.4 518.7 L387.9 530.2 L399.4 541.7Z"/>
<circle class="sc" cx="399.4" cy="530.2" r="7.4"/>
<path class="l1" d="M392 530.2H406.8"/>
<text class="t" x="399.4" y="528.6" font-size="4.8">B</text>
<text class="t" x="399.4" y="535.3" font-size="3.8">A-6</text>
<rect class="cm" x="332" y="231" width="7.5" height="5.6" fill="url(#hv)"/>
<path class="hc" d="M332 233.8H339.5"/>
<rect class="cm" x="332.3" y="288.4" width="7.5" height="20.2" fill="url(#hh)"/>
<path class="hc" d="M336.1 288.4V308.6"/>
<rect class="cm" x="328.2" y="293.5" width="4.1" height="7" fill="url(#hh)"/>
<path class="hc" d="M330.2 293.5V300.5"/>
<path class="ds" d="M332.8 236.6 L332.8 288.4"/>
<path class="ds" d="M339.3 236.6 L339.3 288.4"/>
<rect class="wn" x="332.3" y="308.6" width="4.5" height="29.4"/>
<path class="wl" d="M333.9 308.6V338"/>
<path class="wl" d="M335.2 308.6V338"/>
<rect class="wn" x="332.3" y="387" width="4.5" height="30"/>
<path class="wl" d="M333.9 387V417"/>
<path class="wl" d="M335.2 387V417"/>
<path class="l1" d="M332.3 308.6 L332.3 417"/>
<rect class="cm" x="332.3" y="417" width="11.8" height="10.2" fill="url(#hv)"/>
<path class="hc" d="M332.3 422.1H344.1"/>
<rect class="wn" x="344.1" y="421" width="31.4" height="6.2"/>
<path class="wl" d="M344.1 423.2H375.5"/>
<path class="wl" d="M344.1 425H375.5"/>
<rect class="wn" x="438.4" y="421" width="32.9" height="6.2"/>
<path class="wl" d="M438.4 423.2H471.3"/>
<path class="wl" d="M438.4 425H471.3"/>
<rect class="cm" x="471.3" y="420.2" width="75.4" height="7.1" fill="url(#hv)"/>
<path class="hc" d="M471.3 423.8H546.7"/>
<rect class="cm" x="538.7" y="420.2" width="8" height="14.3" fill="url(#hh)"/>
<path class="hc" d="M542.7 420.2V434.5"/>
<path class="ds" d="M339.5 272 L563 272"/>
<path class="ds2" d="M339.5 231 L339.5 417"/>
<path class="ds2" d="M344 418 L538 418"/>
<text class="rn" x="435.9" y="328.7" font-size="7.5">FAMILY ROOM</text>
<path class="ul" d="M409.1 330.2H462.7M409.1 331.1H462.7"/>
<text class="t" x="435.9" y="336.4" font-size="5.5">CEIL.  22'-0"</text>
<path class="bk" d="M304 300.5L304 290.5A10 10 0 0 1 304 310.5Z"/>
<rect class="wht" x="303.5" y="300.7" width="5" height="10.3"/>
<text class="tt" x="306" y="306.9" font-size="3.9" transform="rotate(-90 306 305.5)">6'</text>
<ellipse class="tg" cx="318.5" cy="305.9" rx="3.6" ry="3"/>
<text class="tt" x="318.5" y="307.7" font-size="5">FF</text>
<ellipse class="tg" cx="318.5" cy="316" rx="4.4" ry="3.2"/>
<text class="tt" x="318.5" y="317.8" font-size="5">04</text>
<path class="dr" d="M327.2 300.500V326.700A26.2 26.2 0 0 1 301 300.500"/>
<path class="l3" d="M327.2 301 L327.2 326.7"/>
<path class="dr" d="M332.3 338.3H307.6M332.3 386.9H307.6"/>
<path class="dr" d="M307.6 338.3A24.5 24.5 0 0 0 332.3 362.6A24.5 24.5 0 0 0 307.6 386.9"/>
<path class="bk" d="M332.3 345.9L342.3 345.9A10 10 0 0 1 322.3 345.9Z"/>
<text class="tt" x="326" y="344.5" font-size="4.2">6'</text>
<ellipse class="tg" cx="308.9" cy="361" rx="4.6" ry="3.2"/>
<text class="tt" x="308.9" y="362.8" font-size="5">03</text>
<path class="dr" d="M375.5 427V458.5M438.4 427V458.5"/>
<path class="dr" d="M375.5 458.5A31.5 31.5 0 0 0 407 427A31.5 31.5 0 0 0 438.4 458.5"/>
<path class="bk" d="M417 427L417 417A10 10 0 0 1 417 437Z"/>
<text class="tt" x="419" y="434.5" font-size="4.2" transform="rotate(-90 419 433)">6'</text>
<ellipse class="tg" cx="388.1" cy="439.6" rx="4.6" ry="3.2"/>
<text class="tt" x="388.1" y="441.4" font-size="5">02</text>
<path class="l2" d="M529.6 230.7V367.8H564.3"/>
<path class="dk" d="M564.3 367.8V252.6H707"/>
<path class="l2" d="M543 230.7V367.8"/>
<path class="ds" d="M538 230.7 L538 367.8"/>
<path class="ds" d="M543 241.3H762"/>
<path class="ds" d="M710.7 252.6H762"/>
<rect class="l1" x="612" y="232.5" width="10.7" height="18"/>
<rect class="l1" x="626.3" y="232.5" width="10.7" height="18"/>
<path class="l2" d="M617.3 232.500v18M631.600 232.500v18M612 238.500h10.700M612 244.500h10.700M626.300 238.500h10.700M626.300 244.500h10.700"/>
<text class="tt" x="624.7" y="257.9" font-size="4.1">COOKTOP</text>
<rect class="dk" x="602.8" y="289.8" width="43.7" height="84.7"/>
<path class="ds" d="M624.7 289.8 L624.7 374.5"/>
<text class="rn" x="624.7" y="329.5" font-size="7.5">KITCHEN</text>
<path class="ul" d="M607.6 331H641.8M607.6 331.9H641.8"/>
<text class="t" x="624.7" y="337.4" font-size="5.5">CEIL.  10'-0"</text>
<text class="tt" x="553" y="285.8" font-size="4.1">D/W</text>
<rect class="fx" x="546.5" y="297.5" width="14.5" height="12.5"/>
<rect class="fx" x="546.5" y="311" width="14.5" height="12.5"/>
<text class="tt" x="568.5" y="311.2" font-size="3.4" transform="rotate(-90 568.5 310)">DBL. SINK</text>
<ellipse class="tg" cx="511.5" cy="295.6" rx="3.2" ry="3.2"/>
<text class="tt" x="511.5" y="297.4" font-size="5">5</text>
<path class="l3" d="M515 295.6h22"/>
<rect class="bk" x="535.5" y="294.6" width="4" height="2"/>
<rect class="tw" x="707" y="230.7" width="3.7" height="25.3"/>
<rect class="tw" x="762.5" y="230.7" width="3.7" height="25.3"/>
<path class="ds" d="M707 256 L707 282.3"/>
<path class="ds" d="M710.7 256 L710.7 282.3"/>
<path class="ds" d="M762.5 256 L762.5 282.3"/>
<path class="ds" d="M766.2 256 L766.2 282.3"/>
<text class="rn" x="737" y="268.1" font-size="7.5">BUTLER</text>
<path class="ul" d="M721.6 269.6H752.4M721.6 270.5H752.4"/>
<text class="t" x="737" y="276" font-size="5.5">CEIL.  10'-0"</text>
<rect class="tw" x="685" y="282.3" width="25.7" height="3.7"/>
<rect class="tw" x="707" y="282.3" width="3.7" height="116.7"/>
<rect class="tw" x="741.5" y="286" width="25.2" height="3.8"/>
<rect class="tw" x="763" y="282.3" width="3.7" height="109.3"/>
<rect class="tw" x="710.7" y="372.8" width="52.3" height="3.7"/>
<rect class="tw" x="685" y="394.6" width="25.2" height="3.5"/>
<rect class="gw" x="763" y="387.5" width="13.8" height="10.6" fill="#bdbdbd"/>
<rect class="fx" x="684.5" y="287.3" width="21.9" height="18.7"/>
<text class="tt" x="695.5" y="295.6" font-size="3.5">OVEN/</text>
<text class="tt" x="695.5" y="299.3" font-size="3.5">MICRO</text>
<rect class="l3" x="686.5" y="306" width="19.9" height="46.7"/>
<path class="ds2" d="M697 306 L697 352.7"/>
<rect class="fx" x="682.5" y="352.7" width="23.9" height="41.3"/>
<text class="tt" x="693.8" y="374.3" font-size="4.1">REF.</text>
<path class="dr" d="M713.5 287.3L713.5 314.3"/>
<path class="dr" d="M713.5 314.3A27 27 0 0 0 740.5 287.3"/>
<ellipse class="tg" cx="725.7" cy="300" rx="4.4" ry="3.2"/>
<text class="tt" x="725.7" y="301.8" font-size="5">13</text>
<path class="l3" d="M712 359H750V289"/>
<text class="rn" x="730.8" y="328.5" font-size="7.5">PANTRY</text>
<path class="ul" d="M714.9 330H746.7M714.9 330.9H746.7"/>
<text class="t" x="730.8" y="336.4" font-size="5.5">CEIL.  10'-0"</text>
<rect class="fx" x="716.5" y="381" width="15.5" height="13"/>
<path class="l0" d="M724 379v6"/>
<text class="tt" x="751.5" y="389.7" font-size="3.4">U/C</text>
<text class="tt" x="751.5" y="393" font-size="3.4">REF.</text>
<text class="tt" x="722" y="402.7" font-size="3.4">SINK</text>
<path class="ds2" d="M743 376.5 L743 398"/>
<text class="rn" x="739" y="405.8" font-size="7.5">BAR</text>
<path class="ul" d="M730.6 407.3H747.4M730.6 408.2H747.4"/>
<text class="t" x="739" y="413.9" font-size="5.5">CEIL.  10'-0"</text>
<text class="tt" x="829.6" y="394.5" font-size="4.2">FLAT HEADER AT 8'-0" A.F.F.</text>
<path class="ds" d="M776.8 387.5 L918 387.5"/>
<path class="ds" d="M776.8 398 L899 398"/>
<text class="rn" x="831.3" y="311.9" font-size="7.5">DINING</text>
<path class="ul" d="M817.5 313.4H845.1M817.5 314.3H845.1"/>
<text class="t" x="831.3" y="319.8" font-size="5.5">CEIL.  10'-0"</text>
<path class="ds" d="M686.3 398 L686.3 451"/>
<path class="ds" d="M710.7 398 L710.7 451"/>
<text class="tt" x="695.5" y="426.5" font-size="4.2" transform="rotate(-90 695.5 425)">FLAT HEADER</text>
<text class="tt" x="701" y="426.5" font-size="4.2" transform="rotate(-90 701 425)">AT 8'-0" A.F.F.</text>
<text class="rn" x="805.7" y="432.2" font-size="7.5">HALLWAY #2</text>
<path class="ul" d="M782 433.7H829.4M782 434.6H829.4"/>
<text class="t" x="805.7" y="440.1" font-size="5.5">CEIL.  10'-0"</text>
<path class="ds" d="M711.4 461.7 L895 461.7"/>
<rect class="tw" x="918.3" y="230.7" width="3.8" height="144.3"/>
<path class="gw" fill="#c6c6c6" d="M883.6 388.300H906.700L896.600 398.400H883.600Z"/>
<path class="tw" d="M934.300 360.700H938.500L900.800 398.400H896.600Z"/>
<circle class="sc" cx="920.3" cy="375.2" r="1.7"/>
<circle class="sc" cx="898.7" cy="396.8" r="1.7"/>
<rect class="tw" x="1047.8" y="230.7" width="3.8" height="67.9"/>
<rect class="cm" x="1105.9" y="230.7" width="7.5" height="135.8" fill="url(#hh)"/>
<path class="hc" d="M1109.7 230.7V366.5"/>
<rect class="tw" x="922.1" y="333.3" width="10.9" height="3.8"/>
<rect class="tw" x="997" y="333.3" width="11.3" height="3.8"/>
<rect class="tw" x="1004.6" y="333.3" width="3.7" height="25.7"/>
<rect class="tw" x="922.1" y="357" width="86.2" height="3.7"/>
<path class="l2" d="M933 334.5h40M957 336h40"/>
<path class="l3" d="M922 347 L1004 347"/>
<rect class="tw" x="1048.6" y="327.5" width="57.3" height="3.8"/>
<rect class="tw" x="1048.6" y="325" width="3.8" height="36.5"/>
<rect class="tw" x="1038.5" y="357" width="5" height="4.5"/>
<path class="fx" d="M1052.3 232H1105V258.4H1052.3z"/>
<path class="fx" d="M1058 235h36q8 0 8 10q0 10 -8 10h-36z"/>
<path class="fx" d="M1104.5 264h-12q-13 0 -14 9q1 9 14 9h12z"/>
<path class="fx" d="M1098 266q-14 0 -15 7q1 7 15 7z"/>
<rect class="fx" x="1086.3" y="286" width="18.7" height="41.5"/>
<ellipse class="fx" cx="1095.5" cy="308" rx="9" ry="10.5"/>
<path class="l0" d="M1101.5 303v10M1098 308h6"/>
<ellipse class="tg" cx="1089.5" cy="292.5" rx="3" ry="3"/>
<text class="tt" x="1089.5" y="294.3" font-size="5">1</text>
<path class="bk" d="M1113.4 292l4 10l-4 10z"/>
<path class="bk" d="M1113.4 313l4 10l-4 10z"/>
<path class="bk" d="M1113.4 334l4 10l-4 10z"/>
<rect class="l2" x="1113.4" y="291" width="3.1" height="61"/>
<text class="rn" x="988.7" y="302.6" font-size="7.5">GUEST RM.</text>
<path class="ul" d="M967.3 304.1H1010.1M967.3 305H1010.1"/>
<text class="t" x="988.7" y="310.5" font-size="5.5">CEIL.  10'-0"</text>
<text class="rn" x="1070" y="288.2" font-size="7.5">GUEST</text>
<text class="rn" x="1070" y="296.7" font-size="7.5">BATH</text>
<path class="ul" d="M1060 298.2H1080M1060 299.1H1080"/>
<path class="ul" d="M1058 290h24"/>
<text class="t" x="1070" y="304.4" font-size="5.5">CEIL.  10'-0"</text>
<text class="rn" x="962.6" y="346.5" font-size="8.6">CLOSET</text>
<path class="ul" d="M944.6 348H980.6M944.6 348.9H980.6"/>
<text class="t" x="962.6" y="353.6" font-size="5.5">CEIL.  9'-0"</text>
<text class="rn" x="1078.2" y="341.5" font-size="7.4">A.H.U. CL.</text>
<path class="ul" d="M1060.2 343H1096.2M1060.2 343.9H1096.2"/>
<text class="t" x="1086" y="349.6" font-size="5.5">CEIL.  9'-0"</text>
<rect class="l2" x="1056" y="342" width="23" height="13"/>
<text class="tt" x="1066" y="353.2" font-size="3.4">AHU #2</text>
<path class="l3" d="M1057 349q5-1 8-6q3 5 8 6"/>
<text class="t" x="1028.4" y="344.9" font-size="5.5">CEIL.  9'-0"</text>
<text class="rn" x="1014.6" y="379.3" font-size="7.5">HALLWAY #3</text>
<path class="ul" d="M990.9 380.8H1038.3M990.9 381.7H1038.3"/>
<text class="t" x="1014.6" y="387.2" font-size="5.5">CEIL.  9'-0"</text>
<text class="t" x="1014.6" y="393.6" font-size="5.1">(4'-0" WIDE)</text>
<ellipse class="tg" cx="964.8" cy="328.3" rx="4.4" ry="3.2"/>
<text class="tt" x="964.8" y="330.1" font-size="5">17</text>
<ellipse class="tg" cx="1026.4" cy="351.4" rx="4.6" ry="3.2"/>
<text class="tt" x="1026.4" y="353.2" font-size="5">11</text>
<ellipse class="tg" cx="1062.4" cy="314.2" rx="4.6" ry="3.2"/>
<text class="tt" x="1062.4" y="316" font-size="5">12</text>
<ellipse class="tg" cx="1078.2" cy="379" rx="4.4" ry="3.2"/>
<text class="tt" x="1078.2" y="380.8" font-size="5">15</text>
<ellipse class="tg" cx="1125.2" cy="384.9" rx="4.6" ry="3.2"/>
<text class="tt" x="1125.2" y="386.7" font-size="5">08</text>
<path class="dr" d="M1039.5 359L1039.5 331"/>
<path class="dr" d="M1039.5 331A28 28 0 0 0 1011.5 359"/>
<path class="dr" d="M1050 325.5L1077 325.5"/>
<path class="dr" d="M1077 325.5A27 27 0 0 0 1050 298.5"/>
<path class="ds2" d="M1050 298.6v27"/>
<path class="dr" d="M1052.4 361.5l19 19l7 -17M1105 361.5l-19 19l-7 -17"/>
<path class="ds" d="M1113.4 367V398"/>
<path class="dr" d="M1113.4 399L1113.4 368"/>
<path class="dr" d="M1113.4 368A31 31 0 0 1 1144.4 399"/>
<path class="ds2" d="M1105.9 366.5v37"/>
<path class="l3" d="M1153.7 230.7 L1153.7 403.9"/>
<rect class="wn" x="538.7" y="434.5" width="6.8" height="63.5"/>
<path class="wl" d="M541.1 434.5V498"/>
<path class="wl" d="M543.1 434.5V498"/>
<rect class="tw" x="539" y="498" width="5.5" height="5.4"/>
<rect class="wn" x="544.5" y="497.4" width="65.1" height="6.3"/>
<path class="wl" d="M544.5 499.7H609.6"/>
<path class="wl" d="M544.5 501.4H609.6"/>
<rect class="cm" x="609.6" y="497.4" width="14.4" height="6.3" fill="url(#hv)"/>
<path class="hc" d="M609.6 500.5H624"/>
<rect class="cm" x="617.1" y="497.4" width="6.8" height="72.9" fill="url(#hh)"/>
<path class="hc" d="M620.5 497.4V570.3"/>
<rect class="wn" x="617.6" y="570.3" width="4.6" height="31.2"/>
<path class="wl" d="M619.3 570.3V601.5"/>
<path class="wl" d="M620.5 570.3V601.5"/>
<rect class="wn" x="617.6" y="664.7" width="4.6" height="31.1"/>
<path class="wl" d="M619.3 664.7V695.8"/>
<path class="wl" d="M620.5 664.7V695.8"/>
<rect class="cm" x="617.1" y="695.8" width="7.5" height="27.1" fill="url(#hh)"/>
<path class="hc" d="M620.9 695.8V722.9"/>
<path class="ds2" d="M537.4 231 L537.4 420"/>
<text class="rn" x="587.5" y="462.7" font-size="7.5">BREAKFAST</text>
<path class="ul" d="M564.6 464.2H610.4M564.6 465.1H610.4"/>
<text class="t" x="587.5" y="470.6" font-size="5.5">CEIL.  10'-0"</text>
<ellipse class="tg" cx="525.4" cy="461" rx="4.8" ry="3.3"/>
<text class="tt" x="525.4" y="462.8" font-size="5">GG</text>
<ellipse class="tg" cx="525.4" cy="470.5" rx="3.3" ry="3.3"/>
<text class="tt" x="525.4" y="472.3" font-size="5">H</text>
<ellipse class="tg" cx="577" cy="510.7" rx="4.8" ry="3.3"/>
<text class="tt" x="577" y="512.5" font-size="5">GG</text>
<ellipse class="tg" cx="577" cy="520.3" rx="3.3" ry="3.3"/>
<text class="tt" x="577" y="522.1" font-size="5">H</text>
<path class="tw" d="M624.1 499.4L670.4 450.6H710.6V460.1H707.6V453.6H671.7L626.5 501.6Z"/>
<path class="tw" d="M660.3 511.4L711.6 461.1L713.7 463.2L662.4 513.5Z"/>
<path class="tw" d="M624.1 550.7H674.4L736.2 488.9L734.1 486.8L674.3 546.6H624.1Z"/>
<path class="rl" d="M680.4 493.3 L712.6 462.1"/>
<path class="rl" d="M705.6 518.5 L735.7 488.3"/>
<rect class="tw" x="708.4" y="452.2" width="3.4" height="5"/>
<path class="l2" d="M682.5 491.3 L699.5 508.3"/>
<path class="l2" d="M688.6 485.2 L705.6 502.2"/>
<path class="l2" d="M694.7 479.1 L711.7 496.1"/>
<path class="l2" d="M700.8 473 L717.8 490"/>
<path class="l2" d="M706.9 466.9 L723.9 483.9"/>
<path class="l2" d="M713 460.8 L730 477.8"/>
<path class="l1" d="M693.5 505.9 L730.7 469.2"/>
<path class="bk" d="M730.7 469.2l-3.6 .8l2.8 2.8zM693.5 505.9l3.6 -.8l-2.8 -2.8z"/>
<circle class="sc" cx="702.6" cy="510.4" r="2.7"/>
<circle class="sc" cx="708.8" cy="504.2" r="2.7"/>
<circle class="sc" cx="715" cy="497.9" r="2.7"/>
<circle class="sc" cx="721.3" cy="491.7" r="2.7"/>
<circle class="sc" cx="727.5" cy="485.4" r="2.7"/>
<circle class="sc" cx="733.7" cy="479.2" r="2.7"/>
<path class="l3" d="M734.5 487.500q6.500 -1 6 -7q-1.500 -5 -8 -4"/>
<path class="rl" d="M736.5 486.500q3.500 -2.500 1.500 -6q-2 -2 -4 -1"/>
<path class="ds2" d="M640 490 L662 512"/>
<path class="ds2" d="M648.6 488.5 L670.6 510.5"/>
<path class="ds2" d="M657.2 487 L679.2 509"/>
<path class="ds2" d="M665.8 485.5 L687.8 507.5"/>
<path class="ds2" d="M674.4 484 L696.4 506"/>
<path class="ds2" d="M683 482.5 L705 504.5"/>
<path class="ds2" d="M664 522 L686 544"/>
<path class="ds2" d="M670.2 515.8 L692.2 537.8"/>
<path class="ds2" d="M676.4 509.6 L698.4 531.6"/>
<path class="ds2" d="M682.6 503.4 L704.6 525.4"/>
<path class="ds2" d="M688.8 497.2 L710.8 519.2"/>
<path class="ds2" d="M676 443 L698 465"/>
<path class="ds2" d="M684 444 L706 466"/>
<path class="ds2" d="M692 445 L714 467"/>
<path class="ds2" d="M700 446 L722 468"/>
<path class="l3" d="M670.4 453 L688.8 476.6"/>
<path class="dr" d="M688.9 476.6A30 30 0 0 1 651.9 476.6"/>
<path class="l1" d="M709.5 461 L713.5 465"/>
<path class="l0" d="M714 517 L720 511"/>
<text class="rn" x="644.8" y="514.4" font-size="7.5">U/STAIR</text>
<path class="ul" d="M631.3 515.9H658.3M631.3 516.8H658.3"/>
<text class="rn" x="644.8" y="522.7" font-size="7.5">STORAGE</text>
<path class="ul" d="M628.3 524.2H661.3M628.3 525.1H661.3"/>
<text class="t" x="644.8" y="530.6" font-size="4.9">CEIL.  VARIES</text>
<ellipse class="tg" cx="734" cy="456.7" rx="4" ry="3.2"/>
<text class="tt" x="734" y="458.5" font-size="5">11</text>
<ellipse class="tg" cx="734" cy="516.5" rx="3.2" ry="3.2"/>
<text class="tt" x="734" y="518.3" font-size="5">9</text>
<ellipse class="tg" cx="666.7" cy="471" rx="4.2" ry="3.2"/>
<text class="tt" x="666.7" y="472.8" font-size="5">13</text>
<path class="l3" d="M729.5 457h-6v-3M730.5 516l-10-8"/>
<text class="t" x="736.6" y="470.5" font-size="4.2">UP</text>
<text class="rn" x="552.5" y="603.4" font-size="7.5">PORCH</text>
<path class="ul" d="M538.3 604.9H566.7M538.3 605.8H566.7"/>
<text class="t" x="552.5" y="611.3" font-size="5.5">CEIL.  22'-0"</text>
<text class="t2" x="539" y="618" font-size="4.7" style="text-anchor:start">-0'-6" F.F. ELEV.</text>
<text class="t2" x="539" y="623.7" font-size="4.7" style="text-anchor:start">(+8.50' NGVD)</text>
<path class="bk" d="M529.5 619.5l3.4-3.4l1.7 1.7l-3.4 3.4z"/>
<path class="l4" d="M536 619h47"/>
<text class="rn" x="759.2" y="612" font-size="7.5">GREAT ROOM</text>
<path class="ul" d="M733 613.5H785.4M733 614.4H785.4"/>
<text class="t" x="759.2" y="620.1" font-size="5.5">CEIL.  22'-0"</text>
<text class="t2" x="743" y="628.7" font-size="4.7" style="text-anchor:start">0'-0" F.F. ELEV.</text>
<text class="t2" x="743" y="634.7" font-size="4.7" style="text-anchor:start">(+9.00' NGVD)</text>
<path class="bk" d="M734.5 630.5l3.4-3.4l1.7 1.7l-3.4 3.4z"/>
<path class="l4" d="M741 630h48"/>
<path class="dr" d="M617.3 602H585.2M617.3 664.9H585.2"/>
<path class="dr" d="M585.2 602A32 32 0 0 0 617.3 633.5A32 32 0 0 0 585.2 664.9"/>
<path class="bk" d="M617.1 613L627.1 613A10 10 0 0 1 607.1 613Z"/>
<text class="tt" x="611" y="611.5" font-size="4.2">6'</text>
<ellipse class="tg" cx="590.7" cy="634.4" rx="4.6" ry="3.2"/>
<text class="tt" x="590.7" y="636.2" font-size="5">02</text>
<path class="ds2" d="M622.4 601.5 L622.4 664.7"/>
<path class="dd" d="M470.9 647.7 L644.4 647.7"/>
<rect class="bk" x="642" y="640.1" width="2.8" height="8.3"/>
<path class="bkp" d="M448.1 648.3 L459.6 636.8 L471.1 648.3Z"/>
<circle class="sc" cx="459.6" cy="648.3" r="7.4"/>
<path class="l1" d="M452.2 648.3H467"/>
<text class="t" x="459.6" y="646.7" font-size="4.8">B</text>
<text class="t" x="459.6" y="653.4" font-size="3.8">A-6</text>
<rect class="tw" x="954.3" y="403.9" width="111.9" height="3.8"/>
<path class="l1" d="M954.3 403.9 L922.9 435.8 L950.5 458 L952.8 455.2 L927.5 435.5 L956.5 407.5"/>
<path class="ds" d="M922.9 435.8 L896.5 460.5"/>
<path class="ds" d="M925.5 438 L899.5 462.5"/>
<rect class="tw" x="895.2" y="460.5" width="4.5" height="106.8"/>
<path class="l1" d="M895.2 567.3 L930.4 600.7 L933.5 597.5 L899.7 565.5"/>
<path class="tw" d="M895.2 567.3L930.4 600.7L934 597L899.7 564.5Z"/>
<path class="tw" d="M954.3 403.9L922.9 435.8L925.8 438.4L958 407.7Z"/>
<path class="tw" d="M922.9 435.8L950.5 458L952.8 455L926 433.5Z"/>
<circle class="sc" cx="898" cy="462.5" r="1.8"/>
<circle class="sc" cx="897.5" cy="566.5" r="1.8"/>
<circle class="sc" cx="931.5" cy="598" r="1.8"/>
<rect class="tw" x="930.4" y="594.5" width="12.6" height="6.2"/>
<rect class="wn" x="943" y="595.5" width="47.7" height="4.3"/>
<path class="wl" d="M943 597H990.7"/>
<path class="wl" d="M943 598.3H990.7"/>
<rect class="tw" x="990.7" y="594.5" width="13.9" height="6.2"/>
<rect class="cm" x="1004.6" y="594.5" width="42.7" height="6.2" fill="url(#hv)"/>
<path class="hc" d="M1004.6 597.6H1047.3"/>
<rect class="cm" x="1039.8" y="494.4" width="7.5" height="22.6" fill="url(#hh)"/>
<path class="hc" d="M1043.5 494.4V517"/>
<rect class="wn" x="1039.8" y="517" width="7.5" height="34"/>
<path class="wl" d="M1042.5 517V551"/>
<path class="wl" d="M1044.6 517V551"/>
<rect class="cm" x="1039.8" y="551" width="7.5" height="49.7" fill="url(#hh)"/>
<path class="hc" d="M1043.5 551V600.7"/>
<rect class="tw" x="1039.8" y="404" width="3.7" height="90.4"/>
<rect class="tw" x="977.7" y="407.7" width="3.7" height="61.6"/>
<rect class="tw" x="977.7" y="465.5" width="7.3" height="3.8"/>
<rect class="tw" x="1037" y="407.7" width="3.5" height="61.6"/>
<rect class="tw" x="1010.8" y="465.5" width="29" height="3.8"/>
<rect class="fx" x="982" y="409" width="24" height="19"/>
<ellipse class="fx" cx="993.5" cy="418" rx="9" ry="6.5"/>
<path class="l0" d="M989 411.5h9M993.5 409v5"/>
<rect class="l3" x="1006.5" y="408.5" width="30.5" height="31.5"/>
<path class="l1" d="M1007 409 L1037 440"/>
<path class="l2" d="M1037 409 L1007 440"/>
<path class="fx" d="M1036.5 446v33h-13q-13-1-14-9q1-9 14-10h13"/>
<path class="fx" d="M1031 450q-18 0 -19 7q1 7 19 7z"/>
<ellipse class="tg" cx="986.5" cy="427" rx="2.8" ry="2.8"/>
<text class="tt" x="986.5" y="428.8" font-size="5">1</text>
<ellipse class="tg" cx="995.8" cy="434.5" rx="2.8" ry="2.8"/>
<text class="tt" x="995.8" y="436.3" font-size="5">2</text>
<ellipse class="tg" cx="1029" cy="418" rx="2.8" ry="2.8"/>
<text class="tt" x="1029" y="419.8" font-size="5">3</text>
<ellipse class="tg" cx="1023.5" cy="411.5" rx="2.8" ry="2.8"/>
<text class="tt" x="1023.5" y="413.3" font-size="5">A</text>
<path class="l3" d="M1000 434h8"/>
<rect class="bk" x="1007" y="433.3" width="4" height="2"/>
<path class="l0" d="M1031 434l2.5 3.5"/>
<text class="rn" x="955.5" y="429.4" font-size="6.6">W.I.C. #2</text>
<path class="ul" d="M940 430.9H971M940 431.8H971"/>
<text class="t" x="955.5" y="436.4" font-size="4.5">CEIL.  10'-0"</text>
<text class="rn" x="997" y="446" font-size="6.6">BATH #2</text>
<path class="ul" d="M983 447.5H1011M983 448.4H1011"/>
<text class="t" x="993" y="453.8" font-size="4.5">CEIL.  10'-0"</text>
<text class="rn" x="972.4" y="496.3" font-size="7.5">BEDRM. #2</text>
<path class="ul" d="M952 497.8H992.8M952 498.7H992.8"/>
<text class="t" x="972.4" y="504.4" font-size="5.5">CEIL.  10'-0"</text>
<ellipse class="tg" cx="922.4" cy="453.7" rx="4.6" ry="3.2"/>
<text class="tt" x="922.4" y="455.5" font-size="5">11</text>
<ellipse class="tg" cx="965.6" cy="448.4" rx="4.6" ry="3.2"/>
<text class="tt" x="965.6" y="450.2" font-size="5">16</text>
<ellipse class="tg" cx="995.8" cy="461" rx="4.6" ry="3.2"/>
<text class="tt" x="995.8" y="462.8" font-size="5">12</text>
<path class="dr" d="M944.7 460A31 31 0 0 1 901.3 458.1"/>
<path class="l2" d="M959 417.6 L977.7 417.6"/>
<path class="l2" d="M959 417.6 L937.5 440.2"/>
<path class="dr" d="M950.5 458l4 10l21-10"/>
<path class="l3" d="M953 466.5l20-9.5"/>
<path class="dr" d="M1006 466L1006 441"/>
<path class="dr" d="M1006 441A25 25 0 0 0 981.4 461.7"/>
<ellipse class="tg" cx="1079.5" cy="507" rx="4.8" ry="3.3"/>
<text class="tt" x="1079.5" y="508.8" font-size="5">BB</text>
<ellipse class="tg" cx="1079.5" cy="517" rx="3.3" ry="3.3"/>
<text class="tt" x="1079.5" y="518.8" font-size="5">B</text>
<ellipse class="tg" cx="1055.6" cy="529" rx="4.8" ry="3.3"/>
<text class="tt" x="1055.6" y="530.8" font-size="5">BB</text>
<ellipse class="tg" cx="1055.6" cy="539" rx="3.3" ry="3.3"/>
<text class="tt" x="1055.6" y="540.8" font-size="5">A</text>
<ellipse class="tg" cx="1015.9" cy="539" rx="3.2" ry="3.2"/>
<text class="tt" x="1015.9" y="540.8" font-size="5">4</text>
<path class="l3" d="M1019.5 538.5l8-2.5l4-3"/>
<text class="tt" x="1036" y="535.5" font-size="4.2" transform="rotate(-90 1036 534)">EGRESS</text>
<path class="l4" d="M1101 506v10M1097 511h8"/>
<text class="t" x="1080.7" y="543.9" font-size="4.7">TYP.</text>
<path class="bkp" d="M1069.2 554 L1080.7 565.5 L1092.2 554Z"/>
<circle class="sc" cx="1080.7" cy="554" r="7.4"/>
<path class="l1" d="M1073.3 554H1088.1"/>
<text class="t" x="1080.7" y="552.4" font-size="4.8">C</text>
<text class="t" x="1080.7" y="559.1" font-size="3.8">A-7</text>
<path class="dd" d="M1019.6 554 L1071 554"/>
<rect class="bk" x="1018.4" y="554" width="2.6" height="7.5"/>
<text class="tt" x="926.5" y="404" font-size="4.2" transform="rotate(45 926.5 402.5)">FLAT HEADER</text>
<text class="tt" x="930.5" y="400" font-size="4.2" transform="rotate(45 930.5 398.5)">AT 8'-0" A.F.F.</text>
<path class="ds" d="M908.2 389.3 L939.4 418.5"/>
<path class="ds" d="M903.5 394 L934 424"/>
<rect class="tw" x="1041" y="403.9" width="25.7" height="3.8"/>
<rect class="tw" x="1043.5" y="408" width="18" height="5"/>
<rect class="tw" x="1063.1" y="403.9" width="3.6" height="8.1"/>
<path class="l3" d="M1063.1 412 L1063.1 471.8"/>
<path class="l3" d="M1063.1 471.8 L1106.4 471.8"/>
<path class="ds2" d="M1053.5 413 L1053.5 494"/>
<path class="dr" d="M1066.7 405.5L1066.7 434"/>
<path class="dr" d="M1066.7 434A28.5 28.5 0 0 0 1095.2 405.5"/>
<rect class="tw" x="1105" y="403" width="6.4" height="5.8"/>
<rect class="ci" x="1106.8" y="404.6" width="3" height="2.8"/>
<rect class="bk" x="1111.4" y="403.9" width="41.5" height="3.4"/>
<rect class="bk" x="1149.1" y="403.9" width="3.8" height="62.8"/>
<rect class="l3" x="1125" y="409" width="23.5" height="57"/>
<path class="l3" d="M1125 435 L1148.5 435"/>
<rect class="fx" x="1127" y="442" width="19.5" height="20"/>
<path class="ds2" d="M1138.5 409 L1138.5 466"/>
<text class="tt" x="1131" y="453.2" font-size="3.4" transform="rotate(90 1131 452)">W</text>
<rect class="fx" x="1069.5" y="475.5" width="19.5" height="17.5"/>
<rect class="fx" x="1071.5" y="477.5" width="15.5" height="13.5"/>
<path class="l0" d="M1073 489.5h12M1079 486v5"/>
<text class="rn" x="1095" y="440.5" font-size="7.5">LAUNDRY</text>
<path class="ul" d="M1076.5 442H1113.5M1076.5 442.9H1113.5"/>
<text class="t" x="1095" y="448.6" font-size="5.5">CEIL.  10'-0"</text>
<ellipse class="tg" cx="1080" cy="418.2" rx="4.6" ry="3.2"/>
<text class="tt" x="1080" y="420" font-size="5">16</text>
<rect class="cm" x="1106.4" y="466.7" width="70.9" height="6.8" fill="url(#hv)"/>
<path class="hc" d="M1106.4 470.1H1177.3"/>
<rect class="cm" x="1106.4" y="466.7" width="7" height="34" fill="url(#hh)"/>
<path class="hc" d="M1109.9 466.7V500.7"/>
<rect class="cm" x="1096.3" y="494.4" width="17.1" height="6.3" fill="url(#hv)"/>
<path class="hc" d="M1096.3 497.5H1113.4"/>
<rect class="wn" x="1063.1" y="494.4" width="33.2" height="6.3"/>
<path class="wl" d="M1063.1 496.7H1096.3"/>
<path class="wl" d="M1063.1 498.4H1096.3"/>
<rect class="cm" x="1039.8" y="494.4" width="23.3" height="6.3" fill="url(#hv)"/>
<path class="hc" d="M1039.8 497.5H1063.1"/>
<path class="l2" d="M1177.3 465.5H1345.3M1177.3 467H1345.3"/>
<path class="ds2" d="M1178 473.5 L1345.3 473.5"/>
<rect class="cm" x="1359.1" y="444.1" width="28.2" height="8.8" fill="url(#hv)"/>
<path class="hc" d="M1359.1 448.5H1387.3"/>
<rect class="cm" x="1359.1" y="444.1" width="6.9" height="30.2" fill="url(#hh)"/>
<path class="hc" d="M1362.5 444.1V474.3"/>
<rect class="cm" x="1345.3" y="465.5" width="20.7" height="8.8" fill="url(#hv)"/>
<path class="hc" d="M1345.3 469.9H1366"/>
<path class="l2" d="M1387.3 444.3H1481M1387.3 446H1481"/>
<path class="ds2" d="M1387.3 452.4 L1481 452.4"/>
<path class="bk" d="M1272.9 466.2L1272.9 456.7A9.5 9.5 0 0 1 1272.9 475.7Z"/>
<path class="bk" d="M1445.9 445.4L1445.9 435.9A9.5 9.5 0 0 1 1445.9 454.9Z"/>
<rect class="wht" x="1272.4" y="466.8" width="4.2" height="9.2"/>
<rect class="wht" x="1445.4" y="446" width="4.2" height="9.2"/>
<text class="tt" x="1274.5" y="471.8" font-size="3.6" transform="rotate(-90 1274.5 470.5)">5'</text>
<text class="tt" x="1447.5" y="451" font-size="3.6" transform="rotate(-90 1447.5 449.7)">5'</text>
<ellipse class="tg" cx="1261.6" cy="457.4" rx="4.6" ry="3.2"/>
<text class="tt" x="1261.6" y="459.2" font-size="5">07</text>
<ellipse class="tg" cx="1434.3" cy="436.6" rx="4.6" ry="3.2"/>
<text class="tt" x="1434.3" y="438.4" font-size="5">08</text>
<text class="t2" x="1196" y="443.3" font-size="4.7" style="text-anchor:start">-0'-7" F.F. ELEV.</text>
<text class="t2" x="1196" y="449.1" font-size="4.7" style="text-anchor:start">(+8.10' NGVD)</text>
<path class="bk" d="M1187.5 446l3.4-3.4l1.7 1.7l-3.4 3.4z"/>
<path class="l3" d="M1193 444.6h50l9 21"/>
<path class="bk" d="M1252 465.5l-2.6-3l2-.8z"/>
<text class="t2" x="1369" y="422.4" font-size="4.7" style="text-anchor:start">-0'-7" F.F. ELEV.</text>
<text class="t2" x="1369" y="428.7" font-size="4.7" style="text-anchor:start">(+8.10' NGVD)</text>
<path class="bk" d="M1360.5 425l3.4-3.4l1.7 1.7l-3.4 3.4z"/>
<path class="l3" d="M1366 423.8h50l9 21"/>
<path class="bk" d="M1425 444.8l-2.6-3l2-.8z"/>
<path class="cl" d="M1397 466A3 3 0 0 1 1396.2 471.1A2.9 2.9 0 0 1 1392.4 474.5A2.9 2.9 0 0 1 1387.5 475.7A3.1 3.1 0 0 1 1382.2 476A2.8 2.8 0 0 1 1377.3 476A3 3 0 0 1 1372.2 475.7A2.9 2.9 0 0 1 1367.4 474.4A2.9 2.9 0 0 1 1363.7 471A3.3 3.3 0 0 1 1363 465.4A2.7 2.7 0 0 1 1363.8 460.9A2.9 2.9 0 0 1 1367.6 457.5A2.9 2.9 0 0 1 1372.5 456.3A3.1 3.1 0 0 1 1377.8 456A2.8 2.8 0 0 1 1382.7 456A3 3 0 0 1 1387.8 456.3A2.9 2.9 0 0 1 1392.6 457.6A2.9 2.9 0 0 1 1396.3 461A2.9 2.9 0 0 1 1397 466Z"/>
<path class="cl" d="M1373 456.5A3.1 3.1 0 0 1 1372.2 461.8A3 3 0 0 1 1368 464.7A3.1 3.1 0 0 1 1362.6 465A3 3 0 0 1 1357.5 463.8A3 3 0 0 1 1355.1 459.1A3.1 3.1 0 0 1 1355.1 453.7A3 3 0 0 1 1357.6 449.2A3.1 3.1 0 0 1 1362.8 448A3.1 3.1 0 0 1 1368.1 448.3A3 3 0 0 1 1372.2 451.3A3.1 3.1 0 0 1 1373 456.5Z"/>
<ellipse class="tg" cx="1386" cy="468" rx="3.8" ry="3.2"/>
<text class="tt" x="1386" y="469.8" font-size="5">14</text>
<path class="trg" d="M1396 479.3 L1402.3 468 L1408.7 479.3Z"/>
<text class="t" x="1402.3" y="477.8" font-size="6.2">1</text>
<path class="cl" d="M1515 437A3.1 3.1 0 0 1 1514.2 442.2A2.9 2.9 0 0 1 1510.4 445.4A3.1 3.1 0 0 1 1505.1 446A2.9 2.9 0 0 1 1500 445.9A2.9 2.9 0 0 1 1495.3 444.1A3 3 0 0 1 1493.1 439.4A2.9 2.9 0 0 1 1493.1 434.4A3 3 0 0 1 1495.4 429.8A3 3 0 0 1 1500.2 428.1A3 3 0 0 1 1505.4 428A3 3 0 0 1 1510.5 428.7A2.9 2.9 0 0 1 1514.3 431.9A3 3 0 0 1 1515 437Z"/>
<path class="cl" d="M1530 446A2.9 2.9 0 0 1 1528.8 450.9A2.9 2.9 0 0 1 1524.4 453.3A3.1 3.1 0 0 1 1519.1 454A2.9 2.9 0 0 1 1514.1 454A2.9 2.9 0 0 1 1509.1 453.8A3 3 0 0 1 1504.1 452.4A2.9 2.9 0 0 1 1501.1 448.5A3 3 0 0 1 1501.2 443.4A2.9 2.9 0 0 1 1504.2 439.5A3 3 0 0 1 1509.3 438.2A3.1 3.1 0 0 1 1514.6 438A2.8 2.8 0 0 1 1519.4 438.1A3 3 0 0 1 1524.6 438.7A2.9 2.9 0 0 1 1528.9 441.2A2.9 2.9 0 0 1 1530 446Z"/>
<ellipse class="tg" cx="1522.6" cy="446.6" rx="3.8" ry="3.2"/>
<text class="tt" x="1522.6" y="448.4" font-size="5">14</text>
<path class="trg" d="M1530.6 457.4 L1536.3 446.6 L1542 457.4Z"/>
<text class="t" x="1536.3" y="456.1" font-size="6.2">1</text>
<path class="l3" d="M1364 459l10 6q4 3 8 3M1501 437l10 6q4 3 8 3"/>
<rect class="cm" x="1098.3" y="566.8" width="21.4" height="28.7" fill="url(#hx)"/>
<rect class="ci" x="1105.1" y="573.6" width="8.3" height="14.6"/>
<rect class="cm" x="1098.8" y="678.9" width="21.9" height="28.4" fill="url(#hx)"/>
<rect class="ci" x="1105.6" y="685.1" width="8.3" height="15.1"/>
<path class="l3" d="M1047.3 567.3 L1098.3 567.3"/>
<path class="ds2" d="M1047.3 595.5 L1098.3 595.5"/>
<path class="l3" d="M1046.5 706.5 L1098.8 706.5"/>
<path class="ds2" d="M1046.5 678.9 L1098.8 678.9"/>
<path class="ds2" d="M1098.3 595.5 L1098.3 678.9"/>
<path class="l3" d="M1120 595.5 L1120 678.9"/>
<path class="ds2" d="M928.4 600.7 L928.4 672.6"/>
<path class="ds2" d="M943 600.7 L943 672.6"/>
<rect class="tw" x="1004.6" y="600.7" width="7" height="6.3"/>
<rect class="tw" x="1004.6" y="667" width="7" height="5.9"/>
<path class="l3" d="M1004.6 607 L1004.6 667"/>
<path class="l3" d="M1011.6 607 L1011.6 667"/>
<path class="dr" d="M1011.6 606.3H1042.3M1011.6 667.9H1042.3"/>
<path class="dr" d="M1042.3 606.3A31 31 0 0 1 1011.6 637.1A31 31 0 0 1 1042.3 667.9"/>
<path class="bk" d="M1011.6 652.8L1021.6 652.8A10 10 0 0 1 1001.6 652.8Z"/>
<text class="tt" x="1018" y="651" font-size="4.2">5'</text>
<path class="bk" d="M1119.7 631.8L1129.7 631.8A10 10 0 0 1 1109.7 631.8Z"/>
<text class="tt" x="1126.5" y="630.5" font-size="4.2">4'</text>
<path class="dd" d="M960.6 620.9 L1121.5 620.9"/>
<rect class="bk" x="959.8" y="613.3" width="2.6" height="8.3"/>
<path class="bkp" d="M1120.8 620.9 L1132.3 609.4 L1143.8 620.9Z"/>
<circle class="sc" cx="1132.3" cy="620.9" r="7.4"/>
<path class="l1" d="M1124.9 620.9H1139.7"/>
<text class="t" x="1132.3" y="619.3" font-size="4.8">A</text>
<text class="t" x="1132.3" y="626" font-size="3.8">A-6</text>
<rect class="bk" x="1071.5" y="663.3" width="8.5" height="2.5"/>
<path class="dd" d="M1079.2 665 L1079.2 714"/>
<path class="bkp" d="M1079.2 713.9 L1067.7 725.4 L1079.2 736.9Z"/>
<circle class="sc" cx="1079.2" cy="725.4" r="7.4"/>
<path class="l1" d="M1071.8 725.4H1086.6"/>
<text class="t" x="1079.2" y="723.8" font-size="4.8">C</text>
<text class="t" x="1079.2" y="730.5" font-size="3.8">A-7</text>
<text class="rn" x="972.6" y="635.9" font-size="7.5">FOYER</text>
<path class="ul" d="M959 637.4H986.2M959 638.3H986.2"/>
<text class="t" x="972.6" y="643.6" font-size="5.5">CEIL.  22'-0"</text>
<text class="t" x="972.6" y="650" font-size="5.1">(7'-3" x 6'-10")</text>
<text class="rn" x="1064.1" y="635.9" font-size="7.5">COVERED ENTRY</text>
<path class="ul" d="M1031.3 637.4H1096.9M1031.3 638.3H1096.9"/>
<text class="t" x="1064.1" y="644" font-size="5.5">CEIL.  24'-0"</text>
<text class="t2" x="1050" y="650.2" font-size="4.7" style="text-anchor:start">-0'-5" F.F. ELEV.</text>
<text class="t2" x="1050" y="655.7" font-size="4.7" style="text-anchor:start">(+8.58' NGVD)</text>
<path class="bk" d="M1041.5 653l3.4-3.4l1.7 1.7l-3.4 3.4z"/>
<ellipse class="tg" cx="976.2" cy="612.6" rx="3.2" ry="3.2"/>
<text class="tt" x="976.2" y="614.4" font-size="5">8</text>
<ellipse class="tg" cx="976.2" cy="661.6" rx="3.2" ry="3.2"/>
<text class="tt" x="976.2" y="663.4" font-size="5">8</text>
<ellipse class="tg" cx="907.3" cy="638.2" rx="4.2" ry="3.2"/>
<text class="tt" x="907.3" y="640" font-size="5">13</text>
<path class="l3" d="M972.5 611l-5-3l-1.5-8M972.5 663l-5 3l-1.5 8"/>
<path class="bk" d="M966 600l1.8 4h-2.6zM966 674l1.8-4h-2.6z"/>
<path class="l3" d="M912 638.2h13"/>
<path class="bk" d="M928.4 638.2l-4-1.4v2.8z"/>
<ellipse class="tg" cx="1001.3" cy="627" rx="4.4" ry="3.2"/>
<text class="tt" x="1001.3" y="628.8" font-size="5">AA</text>
<ellipse class="tg" cx="1001.3" cy="636.6" rx="4.4" ry="3.2"/>
<text class="tt" x="1001.3" y="638.4" font-size="5">AA</text>
<ellipse class="tg" cx="1001.3" cy="646.2" rx="4.4" ry="3.2"/>
<text class="tt" x="1001.3" y="648" font-size="5">01</text>
<rect class="tw" x="928.3" y="672.6" width="13.9" height="7"/>
<rect class="wn" x="942.2" y="673.6" width="47.8" height="5"/>
<path class="wl" d="M942.2 675.4H990"/>
<path class="wl" d="M942.2 676.8H990"/>
<rect class="tw" x="990" y="672.6" width="13.8" height="7"/>
<rect class="cm" x="1003.8" y="672.6" width="42.7" height="7" fill="url(#hv)"/>
<path class="hc" d="M1003.8 676.1H1046.5"/>
<rect class="cm" x="1039.7" y="672.6" width="6.8" height="33.9" fill="url(#hh)"/>
<path class="hc" d="M1043.1 672.6V706.5"/>
<rect class="wn" x="1039.7" y="706.5" width="6.8" height="101.8"/>
<path class="wl" d="M1042.1 706.5V808.3"/>
<path class="wl" d="M1044.1 706.5V808.3"/>
<path class="wl" d="M1039.7 740.5H1046.5"/>
<path class="wl" d="M1039.7 774.5H1046.5"/>
<path class="tw" d="M928.3 672.6L921 680L924 682.6L934 672.6Z"/>
<path class="ds" d="M924 677 L884.3 716.6"/>
<path class="ds" d="M927 680 L888 719"/>
<path class="dr" d="M926 683l9 18l-3 1.5l-9-17"/>
<path class="dr" d="M935.4 700.7A20 20 0 0 1 919.2 701.8"/>
<path class="dr" d="M889 718l9 18l3-1.5l-9-17"/>
<path class="dr" d="M898.4 735.7A20 20 0 0 0 907.8 724.8"/>
<rect class="tw" x="878" y="716.1" width="10.1" height="10.5"/>
<rect class="ci" x="880.5" y="718.5" width="5" height="5.5"/>
<rect class="tw" x="883.8" y="726.6" width="4.3" height="125.7"/>
<rect class="tw" x="888.1" y="811.6" width="151.6" height="4.3"/>
<text class="rn" x="969.1" y="747.7" font-size="7.5">DEN</text>
<path class="ul" d="M960.5 749.2H977.7M960.5 750.1H977.7"/>
<text class="t" x="969.1" y="755.3" font-size="5.5">CEIL.  12'-0"</text>
<text class="t" x="969.1" y="761.7" font-size="5.1">(14'-5" x 12'-7")</text>
<ellipse class="tg" cx="924.6" cy="709.8" rx="4.6" ry="3.2"/>
<text class="tt" x="924.6" y="711.6" font-size="5">10</text>
<ellipse class="tg" cx="977.4" cy="662" rx="3.2" ry="3.2"/>
<text class="tt" x="977.4" y="663.8" font-size="5">8</text>
<ellipse class="tg" cx="1055.8" cy="713.3" rx="4.8" ry="3.3"/>
<text class="tt" x="1055.8" y="715.1" font-size="5">JJ</text>
<ellipse class="tg" cx="1055.8" cy="722.9" rx="3.3" ry="3.3"/>
<text class="tt" x="1055.8" y="724.7" font-size="5">E</text>
<ellipse class="tg" cx="1055.8" cy="752.5" rx="4.8" ry="3.3"/>
<text class="tt" x="1055.8" y="754.3" font-size="5">KK</text>
<ellipse class="tg" cx="1055.8" cy="762.5" rx="3.3" ry="3.3"/>
<text class="tt" x="1055.8" y="764.3" font-size="5">K</text>
<ellipse class="tg" cx="1055.8" cy="791.2" rx="4.8" ry="3.3"/>
<text class="tt" x="1055.8" y="793" font-size="5">JJ</text>
<ellipse class="tg" cx="1055.8" cy="800.8" rx="3.3" ry="3.3"/>
<text class="tt" x="1055.8" y="802.6" font-size="5">E</text>
<rect class="cm" x="565.7" y="716.1" width="59.1" height="6.8" fill="url(#hv)"/>
<path class="hc" d="M565.7 719.5H624.8"/>
<rect class="gw" x="624.8" y="716.1" width="206.9" height="6.8" fill="#c2c2c2"/>
<rect class="gw" x="821.5" y="722.9" width="10.2" height="5.1" fill="#c2c2c2"/>
<rect class="ci" x="750" y="717.2" width="5.5" height="4.6"/>
<rect class="cm" x="565.7" y="716.1" width="7" height="26.9" fill="url(#hh)"/>
<path class="hc" d="M569.2 716.1V743"/>
<rect class="wn" x="566.2" y="743" width="5" height="31.4"/>
<path class="wl" d="M568 743V774.4"/>
<path class="wl" d="M569.4 743V774.4"/>
<rect class="wn" x="566.2" y="838.5" width="5" height="30.2"/>
<path class="wl" d="M568 838.5V868.7"/>
<path class="wl" d="M569.4 838.5V868.7"/>
<rect class="cm" x="565.7" y="868.7" width="7" height="42.7" fill="url(#hh)"/>
<path class="hc" d="M569.2 868.7V911.4"/>
<rect class="wn" x="565.7" y="911.4" width="7" height="45"/>
<path class="wl" d="M568.2 911.4V956.4"/>
<path class="wl" d="M570.2 911.4V956.4"/>
<rect class="cm" x="565.7" y="956.4" width="7" height="26.6" fill="url(#hh)"/>
<path class="hc" d="M569.2 956.4V983"/>
<rect class="tw" x="617.2" y="888" width="162.2" height="3.8"/>
<rect class="tw" x="822.2" y="888" width="106.1" height="3.8"/>
<path class="ds" d="M572.7 888 L617.2 888"/>
<path class="ds" d="M572.7 891.8 L617.2 891.8"/>
<rect class="tw" x="572.7" y="887.5" width="3.8" height="4.8"/>
<path class="ds" d="M779.4 888 L822.2 888"/>
<path class="ds" d="M779.4 891.8 L822.2 891.8"/>
<rect class="ds2" x="603.4" y="755" width="131.3" height="102.4"/>
<path class="l3" d="M572.7 817.9H604V807.8H734V817.9H765.6"/>
<path class="ds2" d="M765.6 846.5 L765.6 888"/>
<text class="rn" x="673.8" y="783.9" font-size="7.5">MASTER BEDROOM</text>
<path class="ul" d="M637.2 785.4H710.4M637.2 786.3H710.4"/>
<text class="t" x="673.8" y="791.8" font-size="5.5">CEIL.  13'-0"</text>
<text class="t" x="709" y="740.2" font-size="5.5">CEIL.  12'-0"</text>
<text class="t" x="655.5" y="875.7" font-size="5.5">CEIL.  12'-0"</text>
<path class="l0" d="M689.4 722.9 L689.4 755"/>
<path class="l0" d="M687.9 722.9l3 2M687.9 755l3 -2"/>
<path class="bk" d="M688.2 722.9l2.4 0l-1.2 3zM688.2 755l2.4 0l-1.2 -3z"/>
<text class="tt" x="686.1" y="740.5" font-size="4.2" transform="rotate(-90 686.1 739)">3'-0"</text>
<path class="l0" d="M689.4 857.4 L689.4 888"/>
<path class="l0" d="M687.9 857.4l3 2M687.9 888l3 -2"/>
<path class="bk" d="M688.2 857.4l2.4 0l-1.2 3zM688.2 888l2.4 0l-1.2 -3z"/>
<text class="tt" x="686.1" y="874.2" font-size="4.2" transform="rotate(-90 686.1 872.7)">3'-0"</text>
<path class="l0" d="M734.7 761.3 L765.6 761.3"/>
<path class="bk" d="M734.7 760.1l0 2.4l3 -1.2zM765.6 760.1l0 2.4l-3 -1.2z"/>
<text class="tt" x="750.2" y="759.8" font-size="4.2">3'-0"</text>
<path class="l0" d="M572.7 847.3 L603.4 847.3"/>
<path class="bk" d="M572.7 846.1l0 2.4l3 -1.2zM603.4 846.1l0 2.4l-3 -1.2z"/>
<text class="tt" x="588" y="845.8" font-size="4.2">3'-0"</text>
<path class="l0" d="M613.5 807.8 L613.5 817.9"/>
<text class="tt" x="617" y="814.5" font-size="4.2" transform="rotate(-70 617 813)">1'-0"</text>
<path class="l1" d="M603.4 848 L603.4 854"/>
<path class="dr" d="M565.7 775.5H534.3M565.7 837.5H534.3"/>
<path class="dr" d="M534.3 775.5A31.4 31.4 0 0 0 565.7 806.5A31.4 31.4 0 0 0 534.3 837.5"/>
<path class="bk" d="M565.7 788.2L575.7 788.2A10 10 0 0 1 555.7 788.2Z"/>
<text class="tt" x="559.5" y="787" font-size="4.2">6'</text>
<path class="cl" d="M570.7 818.9A2.8 2.8 0 0 1 567.2 822.3A3.1 3.1 0 0 1 561.9 823.1A3 3 0 0 1 556.8 823.3A3.7 3.7 0 0 1 550.4 823.3A2.5 2.5 0 0 1 546.1 823.3A2.9 2.9 0 0 1 541 823A3.1 3.1 0 0 1 535.8 822.2A2.9 2.9 0 0 1 532.5 818.6A2.7 2.7 0 0 1 536 815.5A3.1 3.1 0 0 1 541.3 814.7A3 3 0 0 1 546.4 814.5A3.7 3.7 0 0 1 552.8 814.5A2.5 2.5 0 0 1 557.1 814.5A2.9 2.9 0 0 1 562.2 814.8A3.1 3.1 0 0 1 567.4 815.6A2.7 2.7 0 0 1 570.7 818.9Z"/>
<ellipse class="tg" cx="540" cy="819.4" rx="3.4" ry="3"/>
<text class="tt" x="540" y="821.2" font-size="5">LL</text>
<ellipse class="tg" cx="552.5" cy="819.4" rx="4" ry="3"/>
<text class="tt" x="552.5" y="821.2" font-size="5">MM</text>
<ellipse class="tg" cx="563.5" cy="819.4" rx="3.4" ry="3"/>
<text class="tt" x="563.5" y="821.2" font-size="5">LL</text>
<ellipse class="tg" cx="553.1" cy="829.2" rx="4.6" ry="3.2"/>
<text class="tt" x="553.1" y="831" font-size="5">02</text>
<path class="trg" d="M518 832.2 L524 822.2 L530 832.2Z"/>
<text class="t" x="524" y="830.9" font-size="5.6">5</text>
<text class="rn" x="531.3" y="802.5" font-size="7.5">PORCH</text>
<path class="ul" d="M517.1 804H545.5M517.1 804.9H545.5"/>
<text class="t" x="531.3" y="810.4" font-size="5.5">CEIL.  10'-0"</text>
<ellipse class="tg" cx="458.1" cy="824.2" rx="3.6" ry="3.2"/>
<text class="tt" x="458.1" y="826" font-size="5">10</text>
<path class="l3" d="M462 823q8-2 19.5-18.5"/>
<path class="bk" d="M481.5 804.6l.5 3.6l-2.6-1.6z"/>
<ellipse class="tg" cx="554.4" cy="929" rx="4.8" ry="3.3"/>
<text class="tt" x="554.4" y="930.8" font-size="5">LL</text>
<ellipse class="tg" cx="554.4" cy="938.6" rx="3.3" ry="3.3"/>
<text class="tt" x="554.4" y="940.4" font-size="5">H</text>
<ellipse class="tg" cx="614.7" cy="990.3" rx="4.8" ry="3.3"/>
<text class="tt" x="614.7" y="992.1" font-size="5">OO</text>
<ellipse class="tg" cx="614.7" cy="1000.6" rx="3.3" ry="3.3"/>
<text class="tt" x="614.7" y="1002.4" font-size="5">U</text>
<path class="l4" d="M552 969.5v6M549 972.5h6"/>
<text class="rn" x="607.7" y="930.5" font-size="7.5">SEATING</text>
<path class="ul" d="M590.6 932H624.8M590.6 932.9H624.8"/>
<text class="t" x="607.7" y="938.4" font-size="5.5">CEIL.  12'-0"</text>
<rect class="cm" x="481.5" y="716.1" width="21.4" height="21.3" fill="url(#hx)"/>
<rect class="ci" x="488.4" y="722.8" width="8.1" height="8.2"/>
<rect class="cm" x="481.5" y="873.7" width="21.4" height="21.9" fill="url(#hx)"/>
<rect class="ci" x="488.4" y="880.6" width="8.1" height="8.4"/>
<path class="l2" d="M502.9 895.6 L565.7 895.6"/>
<path class="ds" d="M502.9 737.4 L502.9 873.7"/>
<path class="ds2" d="M502.9 716.1 L565.7 716.1"/>
<path class="ds2" d="M502.9 737.4 L565.7 737.4"/>
<path class="ds2" d="M502.9 873.7 L565.7 873.7"/>
<rect class="tw" x="765.6" y="722.9" width="3.8" height="123.6"/>
<rect class="tw" x="769.4" y="780.7" width="55.3" height="3.3"/>
<rect class="tw" x="765.6" y="816.4" width="62.8" height="3.2"/>
<rect class="tw" x="821.6" y="722.9" width="3.8" height="6.1"/>
<rect class="tw" x="821.6" y="751.5" width="3.8" height="29.2"/>
<rect class="tw" x="821.6" y="811" width="3.8" height="35.5"/>
<rect class="fx" x="769.8" y="728" width="15.2" height="22"/>
<rect class="fx" x="771.5" y="731" width="11.5" height="16.5"/>
<path class="l0" d="M771 735v8M769.5 739h5"/>
<path class="fx" d="M770 758h10q8 1 8.5 8.5q-.5 7.500 -8.5 8.500h-10z"/>
<path class="l2" d="M785.5 760.4A7 7 0 0 1 782 773.5"/>
<rect class="fx" x="775" y="790" width="19.5" height="21"/>
<path class="l3" d="M776 791 L794 810"/>
<path class="l3" d="M776 810 L794 791"/>
<text class="tt" x="778" y="801.7" font-size="3.2" transform="rotate(-90 778 800.5)">AHU #1</text>
<text class="rn" x="799" y="766.3" font-size="7.5">POWDER</text>
<path class="ul" d="M783 767.8H815M783 768.7H815"/>
<text class="t" x="799" y="773.6" font-size="4.7">CEIL.  10'-0"</text>
<text class="t" x="806.6" y="800" font-size="4.7">CEIL.</text>
<text class="t" x="806.6" y="805.7" font-size="4.7">10'-0"</text>
<text class="rn" x="858.4" y="751.4" font-size="7.5">HALL</text>
<path class="ul" d="M848.3 752.9H868.5M848.3 753.8H868.5"/>
<text class="t" x="858.4" y="759" font-size="5.5">CEIL.  10'-0"</text>
<text class="tt" x="854.9" y="720.9" font-size="4.2">FLAT HEADER</text>
<text class="tt" x="854.9" y="724.2" font-size="4.2">AT 8'-0" A.F.F.</text>
<path class="ds" d="M831.7 716.1 L878 716.1"/>
<path class="ds" d="M831.7 722.9 L878 722.9"/>
<ellipse class="tg" cx="812.8" cy="737.4" rx="4.6" ry="3.2"/>
<text class="tt" x="812.8" y="739.2" font-size="5">12</text>
<ellipse class="tg" cx="798.3" cy="742.5" rx="3" ry="3"/>
<text class="tt" x="798.3" y="744.3" font-size="5">1</text>
<ellipse class="tg" cx="835.5" cy="807.8" rx="4.6" ry="3.2"/>
<text class="tt" x="835.5" y="809.6" font-size="5">14</text>
<path class="dr" d="M823 729.5L823 751.5"/>
<path class="dr" d="M823 751.5A22 22 0 0 1 801 729.5"/>
<path class="l4" d="M786 742.500h9"/>
<path class="dr" d="M825.4 784l5 10.5l-5 16"/>
<path class="l4" d="M827 784l5 10.5l-5 16"/>
<path class="ds2" d="M825.4 819.6 L883.8 819.6"/>
<path class="dr" d="M829 846V826"/>
<path class="dr" d="M829 846A26 26 0 0 0 854.8 820.900A26 26 0 0 0 880.6 846"/>
<path class="dr" d="M880.6 846V824"/>
<ellipse class="tg" cx="870" cy="831.5" rx="4.6" ry="3.2"/>
<text class="tt" x="870" y="833.3" font-size="5">09</text>
<path class="l4" d="M769.4 840 L821.6 840"/>
<text class="rn" x="826.5" y="862.6" font-size="7.5">HALLWAY #1</text>
<path class="ul" d="M802.8 864.1H850.2M802.8 865H850.2"/>
<text class="t" x="826.5" y="870.7" font-size="5.5">CEIL.  10'-0"</text>
<text class="tt" x="596.4" y="882" font-size="4.2">FLAT HEADER</text>
<text class="tt" x="596.4" y="885.5" font-size="4.2">AT 8'-0" A.F.F.</text>
<text class="tt" x="800" y="882" font-size="4.2">FLAT HEADER</text>
<text class="tt" x="800" y="885.5" font-size="4.2">AT 8'-0" A.F.F.</text>
<path class="ds2" d="M885 852.3 L885 888"/>
<path class="ds2" d="M888.1 852.3 L888.1 888"/>
<path class="dr" d="M888.1 885H919.5"/>
<path class="dr" d="M919.5 885A31.4 31.4 0 0 0 888.1 853.6"/>
<ellipse class="tg" cx="903.7" cy="877.5" rx="4.6" ry="3.2"/>
<text class="tt" x="903.7" y="879.3" font-size="5">11</text>
<rect class="tw" x="883.8" y="815.9" width="4.3" height="36.4"/>
<rect class="tw" x="924.6" y="815.9" width="3.7" height="23.1"/>
<rect class="tw" x="888.1" y="836" width="7.4" height="3.7"/>
<rect class="tw" x="917" y="836" width="11.3" height="3.7"/>
<path class="dr" d="M897 840l3.5 10l16-10"/>
<text class="t" x="905.7" y="825.8" font-size="4.5">CEIL.</text>
<text class="t" x="905.7" y="831.3" font-size="4.5">10'-0"</text>
<rect class="l3" x="928.3" y="815.9" width="111.4" height="17.6"/>
<path class="ds2" d="M967.5 815.9 L967.5 833.5"/>
<path class="ds2" d="M999.5 815.9 L999.5 833.5"/>
<ellipse class="fx" cx="949" cy="824.7" rx="9.5" ry="7"/>
<path class="l0" d="M944.5 819.500h9M949 817.500v5"/>
<ellipse class="fx" cx="1018.3" cy="824.7" rx="9.5" ry="7"/>
<path class="l0" d="M1013.8 819.500h9M1018.3 817.500v5"/>
<ellipse class="tg" cx="981.1" cy="829" rx="3" ry="3"/>
<text class="tt" x="981.1" y="830.8" font-size="5">1</text>
<path class="l3" d="M984 828l6-3v-7"/>
<rect class="bk" x="989.2" y="816.2" width="1.6" height="3"/>
<text class="rn" x="983.1" y="883.4" font-size="7.5">MASTER BATH</text>
<path class="ul" d="M955.9 884.9H1010.3M955.9 885.8H1010.3"/>
<text class="t" x="983.1" y="891.5" font-size="5.5">CEIL.  12'-0"</text>
<path class="l3" d="M1039.7 815.9 L1039.7 934"/>
<rect class="cm" x="1039.7" y="808.3" width="78" height="7.6" fill="url(#hv)"/>
<path class="hc" d="M1039.7 812.1H1117.7"/>
<rect class="cm" x="1089.2" y="808.3" width="28.5" height="23.9" fill="url(#hx)"/>
<rect class="ci" x="1096.3" y="815.9" width="13.6" height="9.5"/>
<rect class="wn" x="1089.2" y="832.2" width="7.1" height="91.3"/>
<path class="wl" d="M1091.8 832.2V923.5"/>
<path class="wl" d="M1093.7 832.2V923.5"/>
<path class="wl" d="M1089.2 862.5H1096.3"/>
<path class="wl" d="M1089.2 893H1096.3"/>
<rect class="cm" x="1089.2" y="923.5" width="28.5" height="24.4" fill="url(#hx)"/>
<rect class="ci" x="1096.3" y="930.5" width="13.6" height="10"/>
<rect class="cm" x="1040.2" y="941.1" width="49" height="6.8" fill="url(#hv)"/>
<path class="hc" d="M1040.2 944.5H1089.2"/>
<rect class="cm" x="1040.2" y="941.1" width="6.3" height="41.9" fill="url(#hh)"/>
<path class="hc" d="M1043.3 941.1V983"/>
<rect class="tw" x="1040.2" y="815.9" width="9.3" height="8.1"/>
<rect class="ci" x="1042.5" y="818" width="4.5" height="4"/>
<rect class="tw" x="1082" y="815.9" width="7.2" height="7.1"/>
<rect class="tw" x="1040.2" y="933.5" width="9.3" height="7.6"/>
<rect class="ci" x="1042.5" y="935.3" width="4.5" height="4"/>
<rect class="tw" x="1082" y="934" width="7.2" height="7.1"/>
<ellipse class="fx" cx="1064.1" cy="878.7" rx="17.6" ry="32.7"/>
<ellipse class="fx" cx="1064.1" cy="878.7" rx="12" ry="25.5"/>
<ellipse class="l4" cx="1064.1" cy="878.7" rx="15" ry="29.5"/>
<path class="bk" d="M1059 911.500h10.500l-5.2 2zM1064.2 905v8"/>
<path class="l0" d="M1064.2 903 L1064.2 913"/>
<text class="rn" x="1065.4" y="877.4" font-size="6.8">WHIRLPOOL</text>
<path class="ul" d="M1044.4 878.9H1086.4M1044.4 879.8H1086.4"/>
<text class="t" x="1065.4" y="885" font-size="4.6">CEIL.  12'-0"</text>
<ellipse class="tg" cx="1056" cy="834" rx="3" ry="3"/>
<text class="tt" x="1056" y="835.8" font-size="5">7</text>
<ellipse class="tg" cx="1056" cy="922.2" rx="3" ry="3"/>
<text class="tt" x="1056" y="924" font-size="5">7</text>
<path class="l3" d="M1059 833l5-2l1.500-7M1059 922l5 2l1.500 8"/>
<rect class="bk" x="1064.5" y="823" width="1.5" height="3.5"/>
<rect class="bk" x="1064.5" y="929.5" width="1.5" height="3.5"/>
<path class="cl" d="M1112 838.5A2.6 2.6 0 0 1 1109.4 842.2A2.9 2.9 0 0 1 1104.5 842.5A2.8 2.8 0 0 1 1100 840.9A2.8 2.8 0 0 1 1100 836.1A2.8 2.8 0 0 1 1104.6 834.5A2.9 2.9 0 0 1 1109.5 834.8A2.6 2.6 0 0 1 1112 838.5Z"/>
<ellipse class="tg" cx="1105.6" cy="839" rx="4" ry="3.2"/>
<text class="tt" x="1105.6" y="840.8" font-size="5">JJ</text>
<ellipse class="tg" cx="1105.6" cy="848.6" rx="3" ry="3"/>
<text class="tt" x="1105.6" y="850.4" font-size="5">I</text>
<path class="trg" d="M1119.5 844.4 L1125.8 834.2 L1132 844.4Z"/>
<text class="t" x="1125.8" y="843" font-size="5.6">5</text>
<path class="cl" d="M1112 872.7A2.6 2.6 0 0 1 1109.4 876.4A2.9 2.9 0 0 1 1104.5 876.7A2.8 2.8 0 0 1 1100 875.1A2.8 2.8 0 0 1 1100 870.3A2.8 2.8 0 0 1 1104.6 868.7A2.9 2.9 0 0 1 1109.5 869A2.6 2.6 0 0 1 1112 872.7Z"/>
<ellipse class="tg" cx="1105.6" cy="873.2" rx="4" ry="3.2"/>
<text class="tt" x="1105.6" y="875" font-size="5">QQ</text>
<ellipse class="tg" cx="1105.6" cy="882.8" rx="3" ry="3"/>
<text class="tt" x="1105.6" y="884.6" font-size="5">J</text>
<path class="trg" d="M1119.5 878.6 L1125.8 868.4 L1132 878.6Z"/>
<text class="t" x="1125.8" y="877.2" font-size="5.6">5</text>
<path class="cl" d="M1112 906.6A2.6 2.6 0 0 1 1109.4 910.3A2.9 2.9 0 0 1 1104.5 910.6A2.8 2.8 0 0 1 1100 909A2.8 2.8 0 0 1 1100 904.2A2.8 2.8 0 0 1 1104.6 902.6A2.9 2.9 0 0 1 1109.5 902.9A2.6 2.6 0 0 1 1112 906.6Z"/>
<ellipse class="tg" cx="1105.6" cy="907.1" rx="4" ry="3.2"/>
<text class="tt" x="1105.6" y="908.9" font-size="5">JJ</text>
<ellipse class="tg" cx="1105.6" cy="916.7" rx="3" ry="3"/>
<text class="tt" x="1105.6" y="918.5" font-size="5">I</text>
<path class="trg" d="M1119.5 912.5 L1125.8 902.3 L1132 912.5Z"/>
<text class="t" x="1125.8" y="911.1" font-size="5.6">5</text>
<path class="ds2" d="M1117.7 832.2 L1117.7 923.5"/>
<path class="l3" d="M928.3 934 L1039.7 934"/>
<rect class="tw" x="971.6" y="933.2" width="4" height="42.8"/>
<path class="l0" d="M975.6 933.2 L1040.2 976"/>
<path class="l0" d="M975.6 976 L1040.2 933.2"/>
<path class="l1" d="M975.6 933.2 L1040.2 933.2"/>
<rect class="tw" x="953.5" y="933.2" width="21.5" height="3"/>
<rect class="tw" x="928.3" y="933" width="4" height="8"/>
<text class="rn" x="1005" y="957.9" font-size="7">SHOWER</text>
<path class="ul" d="M988.5 959.4H1021.5M988.5 960.3H1021.5"/>
<text class="t" x="1004" y="965.7" font-size="4.6">CEIL.  12'-0"</text>
<text class="rn" x="949.7" y="949.9" font-size="7">LINEN CL.</text>
<path class="ul" d="M932.7 951.4H966.7M932.7 952.3H966.7"/>
<text class="t" x="949.7" y="957.6" font-size="4.6">CEIL.  12'-0"</text>
<path class="l4" d="M929 961 L970 961"/>
<ellipse class="tg" cx="943" cy="942" rx="3.6" ry="3"/>
<text class="tt" x="943" y="943.8" font-size="5">14</text>
<ellipse class="tg" cx="971.8" cy="917.7" rx="3" ry="3"/>
<text class="tt" x="971.8" y="919.5" font-size="5">2</text>
<ellipse class="tg" cx="1011.3" cy="946.6" rx="3" ry="3"/>
<text class="tt" x="1011.3" y="948.4" font-size="5">3</text>
<path class="l3" d="M975 916.500l4-2l6 8M980 933l8-4l5-8l3 5"/>
<path class="bk" d="M984 920.500l2.500 4l-2 1z"/>
<path class="l0" d="M1021 935l1-4"/>
<rect class="tw" x="868.5" y="891.8" width="4" height="84.2"/>
<rect class="tw" x="924.6" y="921.5" width="3.7" height="54.5"/>
<text class="rn" x="898.7" y="927.9" font-size="7.5">TOILET</text>
<path class="ul" d="M884.9 929.4H912.5M884.9 930.3H912.5"/>
<text class="t" x="898.7" y="935.5" font-size="5.5">CEIL.  12'-0"</text>
<path class="fx" d="M877.5 975v-16q0 -11 9 -11q9 0 9 11v16z"/>
<path class="l3" d="M878.5 967h16"/>
<path class="fx" d="M905 972q-2 -22 6.500 -22q8.500 0 6.500 22z"/>
<circle class="l4" cx="911.5" cy="967" r="1"/>
<path class="dr" d="M926 895H898"/>
<path class="dr" d="M898 895A28 28 0 0 0 926 923"/>
<ellipse class="tg" cx="915.8" cy="902.1" rx="4.6" ry="3.2"/>
<text class="tt" x="915.8" y="903.9" font-size="5">12</text>
<path class="ds2" d="M924.6 891.8 L924.6 921.5"/>
<path class="ds2" d="M928.3 891.8 L928.3 921.5"/>
<rect class="tw" x="656.7" y="891.8" width="4" height="84.2"/>
<rect class="dk2" x="670" y="902.6" width="91.3" height="119.1"/>
<rect class="wht" x="744" y="898" width="20" height="33.5"/>
<rect class="tw" x="770.6" y="920.7" width="4.3" height="111.3"/>
<rect class="tw" x="770.6" y="891.8" width="4.3" height="5.2"/>
<rect class="tw" x="803.9" y="928.5" width="68.6" height="3.8"/>
<rect class="tw" x="825.8" y="921" width="3.8" height="7.5"/>
<rect class="tw" x="825.8" y="891.8" width="3.8" height="5.2"/>
<path class="dr" d="M774.9 895.500H745.500"/>
<path class="dr" d="M745.9 895.5A29 29 0 0 0 774.9 924.5"/>
<ellipse class="tg" cx="758.8" cy="903.4" rx="4.6" ry="3.2"/>
<text class="tt" x="758.8" y="905.2" font-size="5">11</text>
<text class="rn" x="795" y="906.1" font-size="7.5">HALL</text>
<path class="ul" d="M784.9 907.6H805.1M784.9 908.5H805.1"/>
<text class="t" x="795" y="913.9" font-size="5.5">CEIL.  10'-0"</text>
<ellipse class="tg" cx="816.4" cy="902.1" rx="4.2" ry="3"/>
<text class="tt" x="816.4" y="903.9" font-size="5">14</text>
<path class="dr" d="M827.7 897l-8 18.500l2.500 1.200l7-17"/>
<path class="ds2" d="M774.9 897 L774.9 920.7"/>
<path class="ds2" d="M778 897 L778 920.7"/>
<path class="dr" d="M777.5 930.5L777.5 955.5"/>
<path class="dr" d="M777.5 955.5A25 25 0 0 0 802.5 930.5"/>
<ellipse class="tg" cx="790" cy="941.6" rx="4.6" ry="3.2"/>
<text class="tt" x="790" y="943.4" font-size="5">11</text>
<path class="ds2" d="M774.9 932 L803.9 932"/>
<path class="dk2" d="M784.4 963.400V1021.700H860V942H813"/>
<text class="rn" x="717.8" y="957.4" font-size="7.5">HER W.I.C.</text>
<path class="ul" d="M697.8 958.9H737.8M697.8 959.8H737.8"/>
<text class="t" x="717.8" y="965.3" font-size="5.5">CEIL.  12'-0"</text>
<text class="rn" x="822" y="974.7" font-size="7.5">HIS W.I.C.</text>
<path class="ul" d="M803.7 976.2H840.3M803.7 977.1H840.3"/>
<text class="t" x="822" y="982.8" font-size="5.5">CEIL.  12-0"</text>
<rect class="cm" x="565.7" y="976" width="25.9" height="7" fill="url(#hv)"/>
<path class="hc" d="M565.7 979.5H591.6"/>
<rect class="wn" x="591.6" y="976" width="45.8" height="7"/>
<path class="wl" d="M591.6 978.5H637.4"/>
<path class="wl" d="M591.6 980.5H637.4"/>
<rect class="cm" x="637.4" y="976" width="22.6" height="7" fill="url(#hv)"/>
<path class="hc" d="M637.4 979.5H660"/>
<rect class="cm" x="653.2" y="976" width="6.8" height="63.3" fill="url(#hh)"/>
<path class="hc" d="M656.6 976V1039.3"/>
<rect class="cm" x="653.2" y="1032" width="223.6" height="7.3" fill="url(#hv)"/>
<path class="hc" d="M653.2 1035.7H876.8"/>
<rect class="cm" x="870" y="976" width="6.8" height="63.3" fill="url(#hh)"/>
<path class="hc" d="M873.4 976V1039.3"/>
<rect class="cm" x="870" y="976" width="16.9" height="7" fill="url(#hv)"/>
<path class="hc" d="M870 979.5H886.9"/>
<rect class="wn" x="886.9" y="976" width="23.8" height="7"/>
<path class="wl" d="M886.9 978.5H910.7"/>
<path class="wl" d="M886.9 980.5H910.7"/>
<rect class="cm" x="910.7" y="976" width="84.3" height="7" fill="url(#hv)"/>
<path class="hc" d="M910.7 979.5H995"/>
<rect class="wn" x="995" y="976" width="23.3" height="7"/>
<path class="wl" d="M995 978.5H1018.3"/>
<path class="wl" d="M995 980.5H1018.3"/>
<rect class="cm" x="1018.3" y="976" width="28.2" height="7" fill="url(#hv)"/>
<path class="hc" d="M1018.3 979.5H1046.5"/>
<rect class="bx" x="741.2" y="1039.3" width="84.2" height="41.7"/>
<rect class="l4" x="756.5" y="1043" width="19" height="24.5"/>
<rect class="l4" x="743.5" y="1047" width="6.5" height="6"/>
<path class="l1" d="M743.500 1066h7.500v3h-7.500zM744 1071l6 2"/>
<ellipse class="l4" cx="790.5" cy="1055" rx="5.5" ry="8"/>
<path class="l2" d="M779 1068h4v7h-4zM786.500 1067h5v9h-5zM795 1069l4 3"/>
<rect class="l4" x="809.5" y="1062" width="6" height="8"/>
<path class="l1" d="M808.500 1072h8.500v3h-8.500z"/>
<text class="tt" x="747.5" y="1086.6" font-size="3.5">SPA</text>
<text class="tt" x="747.5" y="1091.7" font-size="3.5">PUMP</text>
<text class="tt" x="766.3" y="1086.6" font-size="3.5">POOL</text>
<text class="tt" x="766.3" y="1091.7" font-size="3.5">HEATER</text>
<text class="tt" x="790" y="1086.6" font-size="3.5">POOL</text>
<text class="tt" x="790" y="1091.7" font-size="3.5">PUMP</text>
<text class="tt" x="811.3" y="1086.6" font-size="3.5">SPRINKLER</text>
<text class="tt" x="811.3" y="1091.7" font-size="3.5">PUMP</text>
<rect class="bk" x="720.3" y="999.7" width="9.1" height="2.8"/>
<path class="dd" d="M728.6 1002 L728.6 1049"/>
<path class="bkp" d="M727.9 1048.7 L716.4 1060.2 L727.9 1071.7Z"/>
<circle class="sc" cx="727.9" cy="1060.2" r="7.4"/>
<path class="l1" d="M720.5 1060.2H735.3"/>
<text class="t" x="727.9" y="1058.6" font-size="4.8">A</text>
<text class="t" x="727.9" y="1065.3" font-size="3.8">A-7</text>
<text class="t" x="728.5" y="1076.2" font-size="4.7">TYP.</text>
<path class="bk" d="M700 1039.300h15l-1 3.500z"/>
<rect class="bx" x="886.9" y="983" width="41.4" height="47"/>
<rect class="cuo" x="895.7" y="998.6" width="23.8" height="25.1" rx="6.7" ry="7"/>
<path class="cus" d="M898.3 999.6V1022.7"/>
<path class="cus" d="M901 999.6V1022.7"/>
<path class="cus" d="M903.6 999.6V1022.7"/>
<path class="cus" d="M906.3 999.6V1022.7"/>
<path class="cus" d="M908.9 999.6V1022.7"/>
<path class="cus" d="M911.6 999.6V1022.7"/>
<path class="cus" d="M914.2 999.6V1022.7"/>
<path class="cus" d="M916.9 999.6V1022.7"/>
<rect class="cuc" x="903.3" y="1007.3" width="8.6" height="7.8" rx="1.6"/>
<path class="l3" d="M896.7 1026.7Q907.6 1028.7 918.5 1026.7"/>
<text class="tt" x="907.5" y="1035.7" font-size="3.9">CU #1</text>
<ellipse class="tg" cx="898.7" cy="990.5" rx="4" ry="3.1"/>
<text class="tt" x="898.7" y="992.3" font-size="5">JJ</text>
<ellipse class="tg" cx="1007.5" cy="990.5" rx="4" ry="3.1"/>
<text class="tt" x="1007.5" y="992.3" font-size="5">JJ</text>
<text class="tt" x="951" y="993" font-size="3.4">GAS TANKLESS</text>
<text class="tt" x="951" y="996.4" font-size="3.4">#2</text>
<rect class="l2" x="944.7" y="983.5" width="12.5" height="5.8"/>
<path class="l4" d="M1030 987v6M1027 990h6"/>
<rect class="bb" x="1165.5" y="531.3" width="194.4" height="211.8"/>
<path class="bb" d="M1165.5 549.2 L1359.9 549.2"/>
<text class="hd" x="1262.6" y="544.4" font-size="10.6">LEGEND</text>
<path class="l4" d="M1215.4 551 L1215.4 742"/>
<path class="l4" d="M1167 565.3 L1358.5 565.3"/>
<path class="l4" d="M1167 580.7 L1358.5 580.7"/>
<path class="l4" d="M1167 596.9 L1358.5 596.9"/>
<path class="l4" d="M1167 612.4 L1358.5 612.4"/>
<path class="l4" d="M1167 628.1 L1358.5 628.1"/>
<path class="l4" d="M1167 643.9 L1358.5 643.9"/>
<path class="l4" d="M1167 664.6 L1358.5 664.6"/>
<path class="l4" d="M1167 686 L1358.5 686"/>
<path class="l4" d="M1167 701.4 L1358.5 701.4"/>
<path class="l4" d="M1167 722.2 L1358.5 722.2"/>
<text class="nt" x="1223.2" y="559.7" font-size="5.5" style="text-anchor:start">C.M.U. WALL</text>
<text class="nt" x="1223.2" y="575.4" font-size="5.5" style="text-anchor:start">NON BEARING INTERIOR PARTITION WALL</text>
<text class="nt" x="1223.2" y="587.4" font-size="5.5" style="text-anchor:start">NON BEARING INTERIOR PARTITION WALL</text>
<text class="nt" x="1223.2" y="594.3" font-size="5.5" style="text-anchor:start">WITH R-11 THERMAL BATT INSULATION</text>
<text class="nt" x="1223.2" y="606.5" font-size="5.5" style="text-anchor:start">DOOR MARK</text>
<text class="nt" x="1223.2" y="622.3" font-size="5.5" style="text-anchor:start">WINDOW MARK</text>
<text class="nt" x="1223.2" y="638" font-size="5.5" style="text-anchor:start">FIX GLASS TRANSOM MARK</text>
<text class="nt" x="1223.2" y="656.5" font-size="5.5" style="text-anchor:start">FIX GLASS TRANSOM ABOVE DOOR MARK</text>
<text class="nt" x="1223.2" y="677.4" font-size="5.5" style="text-anchor:start">FIX GLASS TRANSOM ABOVE WINDOW MARK</text>
<text class="nt" x="1223.2" y="695.5" font-size="5.5" style="text-anchor:start">KEYNOTE MARK</text>
<text class="nt" x="1223.2" y="714" font-size="5.5" style="text-anchor:start">SECTION MARK</text>
<text class="nt" x="1223.2" y="734.9" font-size="5.5" style="text-anchor:start">DETAIL MARK</text>
<rect class="l1" x="1178.5" y="553.5" width="24" height="7.5"/>
<path class="ds2" d="M1180 557.2 L1201 557.2"/>
<rect class="l1" x="1178.5" y="571" width="24" height="4.2"/>
<rect class="bk" x="1178.5" y="586.6" width="24" height="4"/>
<ellipse class="tg" cx="1190.5" cy="604.5" rx="5.6" ry="3.4"/>
<text class="tt" x="1190.5" y="606.3" font-size="5">00</text>
<ellipse class="tg" cx="1190.5" cy="620.3" rx="3.4" ry="3.4"/>
<text class="tt" x="1190.5" y="622.1" font-size="5">A</text>
<ellipse class="tg" cx="1190.5" cy="636" rx="4.6" ry="3.4"/>
<text class="tt" x="1190.5" y="637.8" font-size="5">AA</text>
<ellipse class="tg" cx="1190.5" cy="649.5" rx="4.6" ry="3.4"/>
<text class="tt" x="1190.5" y="651.3" font-size="5">AA</text>
<ellipse class="tg" cx="1190.5" cy="659.3" rx="5.6" ry="3.4"/>
<text class="tt" x="1190.5" y="661.1" font-size="5">00</text>
<ellipse class="tg" cx="1190.5" cy="670.5" rx="4.6" ry="3.4"/>
<text class="tt" x="1190.5" y="672.3" font-size="5">AA</text>
<ellipse class="tg" cx="1190.5" cy="680.3" rx="3.4" ry="3.4"/>
<text class="tt" x="1190.5" y="682.1" font-size="5">A</text>
<ellipse class="tg" cx="1182" cy="693.3" rx="3.4" ry="3.4"/>
<text class="tt" x="1182" y="695.1" font-size="5">A</text>
<path class="l3" d="M1185.5 693.3 L1200 693.3"/>
<rect class="bk" x="1200" y="692.4" width="6" height="2"/>
<circle class="tg" cx="1180" cy="712.5" r="4.6"/>
<path class="l4" d="M1173.500 712.500l6.500-7l6.500 7"/>
<text class="tt" x="1180" y="712.1" font-size="3.1">1</text>
<text class="tt" x="1180" y="715.5" font-size="2.8">A-0</text>
<path class="l0" d="M1186 712.800H1209.500V708.500"/>
<rect class="bk" x="1208.3" y="708.5" width="1.9" height="5.1"/>
<rect class="dt" x="1175.5" y="729" width="18" height="10.5" rx="1.5"/>
<path class="l0" d="M1193.500 734q3-5 6-5"/>
<circle class="tg" cx="1204" cy="730.5" r="4.6"/>
<text class="tt" x="1204" y="730.1" font-size="3.1">1</text>
<text class="tt" x="1204" y="733.5" font-size="2.8">A-0</text>
<path class="l4" d="M1199.5 730.5 L1208.5 730.5"/>
<rect class="bb" x="1380.8" y="531.2" width="194.7" height="95.2"/>
<path class="bb" d="M1380.8 549.6 L1575.5 549.6"/>
<text class="hd" x="1478.1" y="544.7" font-size="11.2" textLength="116.8" lengthAdjust="spacingAndGlyphs">AREA CALCULATIONS</text>
<text class="nt" x="1390.9" y="559.2" font-size="5.5" style="text-anchor:start">GROUND FLOOR LIVING AREA</text>
<text class="nt" xml:space="preserve" x="1516.8" y="559.2" font-size="5.54" style="text-anchor:start">= 4,540 S.F.</text>
<text class="nt" x="1390.9" y="566.1" font-size="5.5" style="text-anchor:start">SECOND FLOOR  LIVING AREA</text>
<text class="nt" xml:space="preserve" x="1516.8" y="566.1" font-size="5.54" style="text-anchor:start">= 2,059 S.F.</text>
<text class="nt" x="1390.9" y="572.3" font-size="5.5" style="text-anchor:start">TOTAL LIVING AREA</text>
<text class="nt" xml:space="preserve" x="1516.8" y="572.3" font-size="5.54" style="text-anchor:start">= 6,599 S.F.</text>
<text class="nt" x="1390.9" y="585.6" font-size="5.5" style="text-anchor:start">GARAGE AREA</text>
<text class="nt" xml:space="preserve" x="1516.8" y="585.6" font-size="5.54" style="text-anchor:start">=  842 S.F.</text>
<text class="nt" x="1390.9" y="592.4" font-size="5.5" style="text-anchor:start">COVERED ENTRANCE AREA</text>
<text class="nt" xml:space="preserve" x="1516.8" y="592.4" font-size="5.54" style="text-anchor:start">=  116 S.F.</text>
<text class="nt" x="1390.9" y="599" font-size="5.5" style="text-anchor:start">COVERED PORCH AREA</text>
<text class="nt" xml:space="preserve" x="1516.8" y="599" font-size="5.54" style="text-anchor:start">=  989 S.F.</text>
<text class="tt" x="1390.9" y="605.4" font-size="4.9" style="text-anchor:start" textLength="113" lengthAdjust="spacingAndGlyphs">GARAGE AND MSTR BATH FRONT COV. AREAS</text>
<text class="nt" xml:space="preserve" x="1516.8" y="605.4" font-size="5.54" style="text-anchor:start">=    52 S.F.</text>
<path class="l2" d="M1473 567.3 L1549 567.3"/>
<text class="hd2" x="1390.9" y="620.9" font-size="7.6" style="text-anchor:start" textLength="89.4" lengthAdjust="spacingAndGlyphs">TOTAL FOOTPRINT AREA</text>
<text class="hd2" x="1516.8" y="620.9" font-size="7.6" style="text-anchor:start">=  6,539 S.F.</text>
<rect class="bb" x="1380.8" y="650.5" width="194.7" height="212.5"/>
<path class="bb" d="M1380.8 668.8 L1575.5 668.8"/>
<text class="hd" x="1478.1" y="664" font-size="11.2" textLength="132" lengthAdjust="spacingAndGlyphs">ARCHITECTURAL NOTES</text>
<text class="nt" x="1388" y="679.2" font-size="5.7" style="text-anchor:start">1.</text>
<text class="nt" x="1396" y="679.2" font-size="5.7" style="text-anchor:start">ALL WINDOWS AND DOORS SHALL BE IMPACT RESISTANT.</text>
<text class="nt" x="1388" y="686.1" font-size="5.7" style="text-anchor:start">2.</text>
<text class="nt" x="1396" y="686.1" font-size="5.7" style="text-anchor:start">NUMBERS OF ADDRESS SHALL BE PLACED VISIBLE AND</text>
<text class="nt" x="1396" y="692.9" font-size="5.7" style="text-anchor:start">LEGIBLE FROM THE STREET FRONTING PROPERTY AND</text>
<text class="nt" x="1396" y="699.8" font-size="5.7" style="text-anchor:start">SHALL BE 3" MIN. IN HEIGHT.</text>
<text class="nt" x="1388" y="706.7" font-size="5.7" style="text-anchor:start">3.</text>
<text class="nt" x="1396" y="706.7" font-size="5.7" style="text-anchor:start">ALL EGRESS WINDOWS WILL HAVE CLEAR OPENING MIN. OF</text>
<text class="nt" x="1396" y="713.5" font-size="5.7" style="text-anchor:start">20" WIDE  x 24" HIGH w/5.7 SQ.FT. MIN. AREA.</text>
<text class="nt" x="1388" y="720.4" font-size="5.7" style="text-anchor:start">4.</text>
<text class="nt" x="1396" y="720.4" font-size="5.7" style="text-anchor:start">ALL EGRESS WINDOWS SHALL HAVE OPERATING</text>
<text class="nt" x="1396" y="727.3" font-size="5.7" style="text-anchor:start">MECHANISM NO  HIGHER THAN 54" ABOVE FINISH FLOOR</text>
<text class="nt" x="1396" y="734.1" font-size="5.7" style="text-anchor:start">AND OPENING SHALL HAVE A SILL HEIGHT NOT MORE THAN</text>
<text class="nt" x="1396" y="741" font-size="5.7" style="text-anchor:start">44 INCHES (118 MM) ABOVE FINISH FLOOR.</text>
<text class="nt" x="1388" y="747.9" font-size="5.7" style="text-anchor:start">5.</text>
<text class="nt" x="1396" y="747.9" font-size="5.7" style="text-anchor:start">BATHROOM FLOOR AND BASE BOARD TO BE OF IMPERVIOUS</text>
<text class="nt" x="1396" y="754.7" font-size="5.7" style="text-anchor:start">MATERIAL.</text>
<text class="nt" x="1388" y="761.6" font-size="5.7" style="text-anchor:start">6.</text>
<text class="nt" x="1396" y="761.6" font-size="5.7" style="text-anchor:start">TUB AND SHOWER COMPARTMENTS SHALL HAVE FLOORS</text>
<text class="nt" x="1396" y="768.4" font-size="5.7" style="text-anchor:start">AND WALLS  CONSTRUCTED OF SMOOTH CORROSION</text>
<text class="nt" x="1396" y="775.3" font-size="5.7" style="text-anchor:start">RESISTANT AND  NONABSORBENT  WATER-RESISTANT</text>
<text class="nt" x="1396" y="782.2" font-size="5.7" style="text-anchor:start">MATERIALS TO A HEIGHT OF NOT LESS THAN 70 INCHES</text>
<text class="nt" x="1396" y="789" font-size="5.7" style="text-anchor:start">(1778 MM) ABOVE THE COMPARTMENT FLOOR AT THE DRAIN.</text>
<text class="nt" x="1388" y="795.9" font-size="5.7" style="text-anchor:start">7.</text>
<text class="nt" x="1396" y="795.9" font-size="5.7" style="text-anchor:start">PROVIDE 2 x 4 WOOD BLOCKING BETWEEN THE STUDS IN</text>
<text class="nt" x="1396" y="802.8" font-size="5.7" style="text-anchor:start">AREAS TO HAVE EQUIPMENT LIKE GRAB RAILS, BASE,</text>
<text class="nt" x="1396" y="809.6" font-size="5.7" style="text-anchor:start">VANITY AND/OR WALL CABINETS FOR MOUNTING THESE</text>
<text class="nt" x="1396" y="816.5" font-size="5.7" style="text-anchor:start">ITEMS.</text>
<text class="nt" x="1388" y="823.4" font-size="5.7" style="text-anchor:start">8.</text>
<text class="nt" x="1396" y="823.4" font-size="5.7" style="text-anchor:start">ALL GLASS DOORS AND ENCLOSURES OF SHOWERS AND OR</text>
<text class="nt" x="1396" y="830.2" font-size="5.7" style="text-anchor:start">BATH TUBS SHALL BE CATEGORY II SAFETY GLASS.</text>
<text class="nt" x="1388" y="837.1" font-size="5.7" style="text-anchor:start">9.</text>
<text class="nt" x="1396" y="837.1" font-size="5.7" style="text-anchor:start">ALL ATTIC OPENINGS SHALL BE FRAMED WITH 1" x 2" WOOD</text>
<text class="nt" x="1396" y="844" font-size="5.7" style="text-anchor:start">FRAMING.</text>
<text class="nt" x="1388" y="850.8" font-size="5.7" style="text-anchor:start">10.</text>
<text class="nt" x="1397.5" y="850.8" font-size="5.7" style="text-anchor:start">1" RAIN CUT AT GARAGE DOOR.</text>
<text class="nt" x="1388" y="857.7" font-size="5.7" style="text-anchor:start">11.</text>
<text class="nt" x="1397.5" y="857.7" font-size="5.7" style="text-anchor:start">ALL CEILING HEIGHT ARE REFERENCED TO FIN. FL. EL = 0'-0"</text>
<rect class="bb" x="1380.8" y="883.6" width="194.7" height="41.9"/>
<text class="nt" x="1384.7" y="891.9" font-size="5.9" style="text-anchor:start">SEE SHEET A-1d FOR GROUND FLOOR PLAN DIMENSIONS</text>
<text class="nt" x="1384.7" y="898.9" font-size="5.9" style="text-anchor:start">SEE SHEET A-2 FOR SECOND FLOOR PLAN</text>
<text class="nt" x="1384.7" y="906" font-size="5.9" style="text-anchor:start">SEE SHEET A-2d FOR SECOND FLOOR PLAN DIMENSIONS</text>
<text class="nt" x="1384.7" y="913" font-size="5.9" style="text-anchor:start">SEE SHEET A-3 AND A-4 FOR ELEVATIONS</text>
<text class="nt" x="1384.7" y="920.1" font-size="5.9" style="text-anchor:start">SEE SHEET A-5 FOR DOOR, WINDOW AND TRANSOM SCHEDULE</text>
<rect class="bb" x="1165.3" y="764.4" width="194.8" height="240.3"/>
<path class="bb" d="M1165.3 782.4 L1360.1 782.4"/>
<text class="hd" x="1262.9" y="777.4" font-size="10.9" textLength="161.8" lengthAdjust="spacingAndGlyphs">1st FLOOR KEY NOTE LEGEND</text>
<circle class="tg" cx="1175" cy="792.6" r="4.4"/>
<text class="tt" x="1175" y="794.3" font-size="4.6">1</text>
<text class="nt" x="1184.9" y="794.2" font-size="5.5" style="text-anchor:start">SAFETY GLASS ( CATEGORY II) MIRROR</text>
<circle class="tg" cx="1175" cy="805.6" r="4.4"/>
<text class="tt" x="1175" y="807.3" font-size="4.6">2</text>
<text class="nt" x="1184.9" y="806.9" font-size="5.5" style="text-anchor:start">FRAME LESS SAFETY GLASS ( CATEGORY II) DOOR</text>
<circle class="tg" cx="1175" cy="818.5" r="4.4"/>
<text class="tt" x="1175" y="820.2" font-size="4.6">3</text>
<text class="nt" x="1184.9" y="817.4" font-size="5.5" style="text-anchor:start">FRAME LESS SAFETY GLASS ( CATEGORY II) SHOWER</text>
<text class="nt" x="1184.9" y="822.9" font-size="5.5" style="text-anchor:start">ENCLOUSURE</text>
<circle class="tg" cx="1175" cy="835.1" r="4.4"/>
<text class="tt" x="1175" y="836.8" font-size="4.6">4</text>
<text class="nt" x="1184.9" y="833.9" font-size="5.5" style="text-anchor:start">EGRESS WINDOW, PER SECTION R310.1 OF F.R.B.C. 2010</text>
<text class="nt" x="1184.9" y="839" font-size="5.5" style="text-anchor:start">EDITION</text>
<circle class="tg" cx="1175" cy="851.9" r="4.4"/>
<text class="tt" x="1175" y="853.6" font-size="4.6">5</text>
<text class="nt" x="1184.9" y="851.1" font-size="5.5" style="text-anchor:start">METAL FRAMED KNEE WALL SUPPORTING  COUNTER TOP AT</text>
<text class="nt" x="1184.9" y="856.1" font-size="5.5" style="text-anchor:start">42" A.F.F. SEE DETAIL</text>
<circle class="tg" cx="1175" cy="868.3" r="4.4"/>
<text class="tt" x="1175" y="870" font-size="4.6">6</text>
<text class="nt" x="1184.9" y="867.9" font-size="5.5" style="text-anchor:start">42" HEIGHT METAL FRAMED EXTERIOR KNEE WALL. SEE</text>
<text class="nt" x="1184.9" y="872.7" font-size="5.5" style="text-anchor:start">DETAILS</text>
<circle class="tg" cx="1175" cy="884" r="4.4"/>
<text class="tt" x="1175" y="885.7" font-size="4.6">7</text>
<text class="nt" x="1184.9" y="882.8" font-size="5.5" style="text-anchor:start">WALL NICHE WITH  SHELVING (BY OTHERS). TOP AT CEILING</text>
<text class="nt" x="1184.9" y="887.9" font-size="5.5" style="text-anchor:start">PLANE  ( 12'-0" A.F.F. )</text>
<circle class="tg" cx="1175" cy="896.6" r="4.4"/>
<text class="tt" x="1175" y="898.3" font-size="4.6">8</text>
<text class="nt" x="1184.9" y="898.1" font-size="5.5" style="text-anchor:start">WALL NICHE. ( TOP AT  10'-0" A.F.F. )</text>
<circle class="tg" cx="1175" cy="915" r="4.4"/>
<text class="tt" x="1175" y="916.7" font-size="4.6">9</text>
<text class="nt" x="1183.3" y="908.3" font-size="5.5" style="text-anchor:start">19 RAISER AT 7¾" AND 17 TREADS AT 10" WOOD STAIR ( BY</text>
<text class="nt" x="1183.3" y="914.9" font-size="5.5" style="text-anchor:start">OTHERS ). MANUFACTURER TO SUBMIT SHOP DRAWINGS.</text>
<text class="nt" x="1183.3" y="921.3" font-size="5.5" style="text-anchor:start">SEE DETAIL ON SHEET A-9</text>
<circle class="tg" cx="1175" cy="932.1" r="4.4"/>
<text class="tt" x="1175" y="933.8" font-size="4.6">10</text>
<text class="nt" x="1184.9" y="933.7" font-size="5.5" style="text-anchor:start">CONC. BEAM ABOVE</text>
<circle class="tg" cx="1175" cy="945.9" r="4.4"/>
<text class="tt" x="1175" y="947.6" font-size="4.6">11</text>
<text class="nt" x="1184.9" y="944.7" font-size="5.5" style="text-anchor:start">36" HEIGHT GUARD RAIL w/ HAND RAIL ON TOP ( BY OTHERS)</text>
<text class="nt" x="1184.9" y="949.8" font-size="5.5" style="text-anchor:start">PER SECTIONS R311.7.7, R312.2 AND R312.3 OF F.R.B.C. 2010.</text>
<circle class="tg" cx="1175" cy="962.7" r="4.4"/>
<text class="tt" x="1175" y="964.4" font-size="4.6">12</text>
<text class="nt" x="1184.9" y="961.6" font-size="5.5" style="text-anchor:start">12"x24" HEIGHT METAL FRAMED SOFFIT FOR A/C DUCT CHASE.</text>
<text class="nt" x="1184.9" y="966.6" font-size="5.5" style="text-anchor:start">TOP AT 12'-0" A.F.F.</text>
<circle class="tg" cx="1175" cy="979.2" r="4.4"/>
<text class="tt" x="1175" y="980.9" font-size="4.6">13</text>
<text class="nt" x="1184.9" y="978.4" font-size="5.5" style="text-anchor:start">14"x14" HEIGHT METAL FRAMED SOFFIT FOR A/C DUCT CHASE.</text>
<text class="nt" x="1184.9" y="983.1" font-size="5.5" style="text-anchor:start">TOP AT 12'-0" A.F.F.</text>
<circle class="tg" cx="1175" cy="995.3" r="4.4"/>
<text class="tt" x="1175" y="997" font-size="4.6">14</text>
<text class="nt" x="1184.9" y="996.9" font-size="5.5" style="text-anchor:start">60 S.IN. GARAGE VENT. BLOCK</text>
<path class="cl" d="M1285.4 994.8A2.8 2.8 0 0 1 1282.4 998.6A3 3 0 0 1 1277.4 999.9A3 3 0 0 1 1272.3 1000.7A3 3 0 0 1 1267 1001.2A3.2 3.2 0 0 1 1261.6 1001.5A3.2 3.2 0 0 1 1256.1 1001.8A3.1 3.1 0 0 1 1250.8 1002A2.9 2.9 0 0 1 1245.9 1002.1A3.3 3.3 0 0 1 1240.2 1002.1A3.1 3.1 0 0 1 1234.9 1002.2A2.8 2.8 0 0 1 1230 1002.2A4.8 4.8 0 0 1 1221.7 1002.2A2.3 2.3 0 0 1 1217.7 1002.2A2.5 2.5 0 0 1 1213.4 1002.2A2.8 2.8 0 0 1 1208.5 1002.2A2.4 2.4 0 0 1 1204.5 1002.2A3.4 3.4 0 0 1 1198.6 1002.1A2.9 2.9 0 0 1 1193.5 1002A2.6 2.6 0 0 1 1189 1001.8A3.3 3.3 0 0 1 1183.3 1001.6A2.9 2.9 0 0 1 1178.3 1001.3A2.9 2.9 0 0 1 1173.3 1000.9A3 3 0 0 1 1168.2 1000.3A2.8 2.8 0 0 1 1163.4 999.3A3 3 0 0 1 1158.6 997.1A2.8 2.8 0 0 1 1158.8 992.3A3.1 3.1 0 0 1 1163.7 990.1A2.9 2.9 0 0 1 1168.6 989.2A3.1 3.1 0 0 1 1173.9 988.5A2.9 2.9 0 0 1 1179 988.1A3 3 0 0 1 1184.1 987.9A3.4 3.4 0 0 1 1189.9 987.6A2.7 2.7 0 0 1 1194.5 987.5A3 3 0 0 1 1199.7 987.4A3.5 3.5 0 0 1 1205.7 987.3A2.5 2.5 0 0 1 1210 987.3A3.1 3.1 0 0 1 1215.4 987.3A3.7 3.7 0 0 1 1221.7 987.3A2.3 2.3 0 0 1 1225.7 987.3A3.5 3.5 0 0 1 1231.8 987.3A2.6 2.6 0 0 1 1236.3 987.3A3 3 0 0 1 1241.4 987.4A3.2 3.2 0 0 1 1246.9 987.5A2.8 2.8 0 0 1 1251.7 987.6A3 3 0 0 1 1256.9 987.7A3.1 3.1 0 0 1 1262.3 988A3.1 3.1 0 0 1 1267.7 988.4A3 3 0 0 1 1272.8 988.9A3 3 0 0 1 1277.8 989.7A2.9 2.9 0 0 1 1282.6 991A2.7 2.7 0 0 1 1285.4 994.8Z"/>
<path class="trg" d="M1143.8 1001.6 L1149.8 990.6 L1155.9 1001.6Z"/>
<text class="t" x="1149.8" y="1000.1" font-size="6">1</text>
<text class="hd" x="682.1" y="1152" font-size="16.2" style="text-anchor:start" textLength="181.5" lengthAdjust="spacingAndGlyphs">GROUND FLOOR PLAN</text>
<path class="l0" d="M682 1155.3 L864.2 1155.3"/>
<text class="nt" x="810.2" y="1162" font-size="4.9" style="text-anchor:start" textLength="53" lengthAdjust="spacingAndGlyphs">SCALE: 1/4" = 1'-0"</text>
<circle class="sc" cx="882.6" cy="1151.5" r="11.3"/>
<circle class="sc" cx="882.6" cy="1151.5" r="8.6"/>
<circle class="l2" cx="882.6" cy="1151.5" r="9.9" stroke-dasharray="1 1.2"/>
<path class="l3" d="M869.500 1151.500h26M882.600 1138.500v26"/>
<path class="bk" d="M893.700 1149.500l4 2l-4 2z"/>
<text class="hdb" x="899.3" y="1154.7" font-size="4.6">N</text>
<text class="wm" x="7" y="602.7" font-size="20.6" style="text-anchor:start" textLength="314.3" lengthAdjust="spacingAndGlyphs">A11875900 © Miami MLS® 2025</text>
<path d="M0 .8H1600" stroke="#c9c9c9" stroke-width="1.6" fill="none"/>
<path d="M9 1.500Q3.200 2 3.200 8V1185Q3.200 1190 8 1192.500" stroke="#000" stroke-width="4.200" fill="none"/>
<path d="M11 2Q6.200 2.500 6.200 8V1185Q6.200 1189 9 1191" stroke="#9a9a9a" stroke-width="1" fill="none"/>
</svg>
</body></html>
